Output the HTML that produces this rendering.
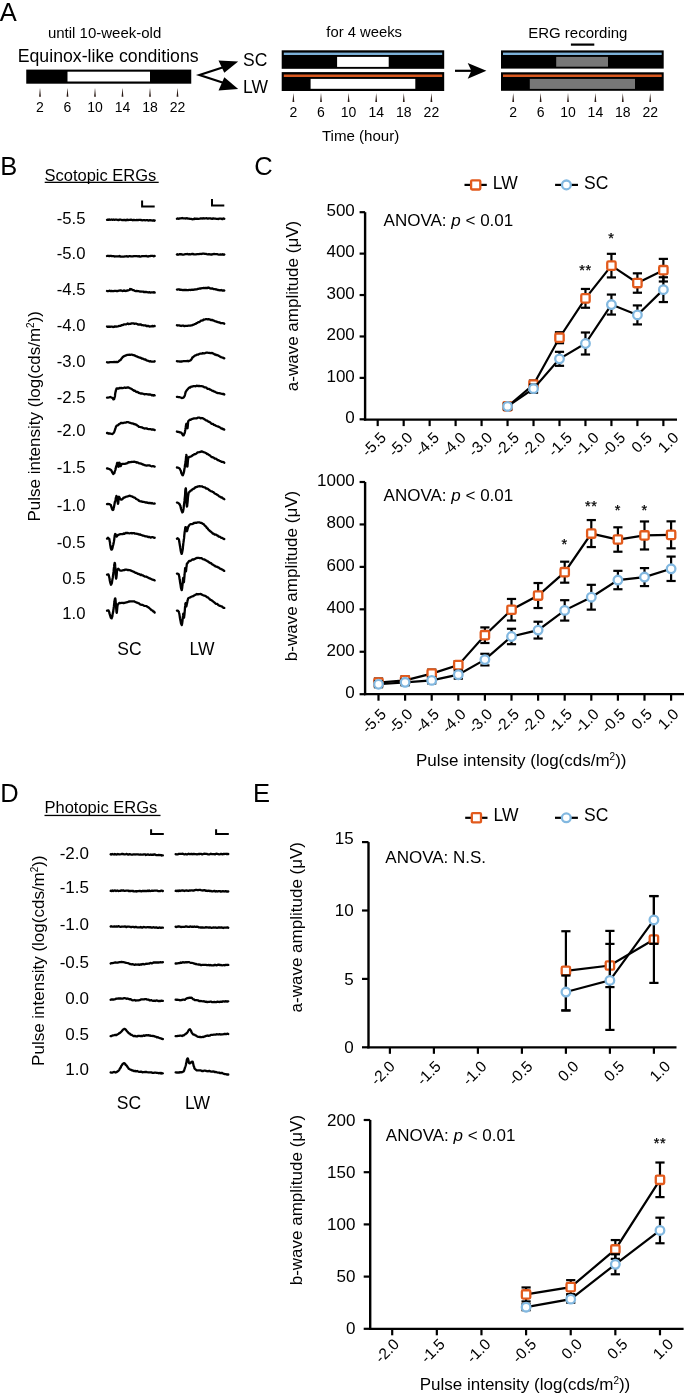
<!DOCTYPE html>
<html><head><meta charset="utf-8"><style>
html,body{margin:0;padding:0;background:#fff;}
svg{display:block;font-family:"Liberation Sans", sans-serif;will-change:transform;}
</style></head><body>
<svg width="685" height="1396" viewBox="0 0 685 1396">
<rect width="685" height="1396" fill="#fff"/>
<text x="-0.30" y="21.20" font-size="25.5" text-anchor="start" >A</text>
<text x="104.60" y="37.50" font-size="15.0" text-anchor="middle" >until 10-week-old</text>
<text x="108.20" y="61.70" font-size="17.7" text-anchor="middle" >Equinox-like conditions</text>
<text x="364.20" y="37.20" font-size="14.8" text-anchor="middle" >for 4 weeks</text>
<text x="577.80" y="37.50" font-size="15.0" text-anchor="middle" >ERG recording</text>
<text x="360.60" y="141.00" font-size="15.1" text-anchor="middle" >Time (hour)</text>
<rect x="26.25" y="69.6" width="165.00" height="14.1" fill="#000"/>
<rect x="67.50" y="71.7" width="82.50" height="9.8" fill="#fff"/>
<polygon points="39.10,96.8 40.00,87.8 40.90,96.8" fill="#2a1a14"/>
<text x="40.00" y="111.90" font-size="14" text-anchor="middle" >2</text>
<polygon points="66.60,96.8 67.50,87.8 68.40,96.8" fill="#2a1a14"/>
<text x="67.50" y="111.90" font-size="14" text-anchor="middle" >6</text>
<polygon points="94.10,96.8 95.00,87.8 95.90,96.8" fill="#2a1a14"/>
<text x="95.00" y="111.90" font-size="14" text-anchor="middle" >10</text>
<polygon points="121.60,96.8 122.50,87.8 123.40,96.8" fill="#2a1a14"/>
<text x="122.50" y="111.90" font-size="14" text-anchor="middle" >14</text>
<polygon points="149.10,96.8 150.00,87.8 150.90,96.8" fill="#2a1a14"/>
<text x="150.00" y="111.90" font-size="14" text-anchor="middle" >18</text>
<polygon points="176.60,96.8 177.50,87.8 178.40,96.8" fill="#2a1a14"/>
<text x="177.50" y="111.90" font-size="14" text-anchor="middle" >22</text>
<polyline points="224,67 199.5,75 224,83" fill="none" stroke="#000" stroke-width="2.2"/>
<polygon points="238.2,61.6 218.5,60.4 224.3,72.8" fill="#000"/>
<polygon points="238.2,88.9 218.5,90.4 224.3,77.2" fill="#000"/>
<text x="243.00" y="65.50" font-size="17.5" text-anchor="start" >SC</text>
<text x="243.00" y="92.50" font-size="17.5" text-anchor="start" >LW</text>
<rect x="281.7" y="50.3" width="162.5" height="18.5" fill="#000"/>
<rect x="283.8" y="52.6" width="158.4" height="2.4" fill="#7BB0D8"/>
<rect x="337.1" y="56.9" width="51.6" height="10" fill="#fff"/>
<rect x="281.7" y="72.1" width="162.5" height="18.9" fill="#000"/>
<rect x="283.8" y="74.5" width="158.4" height="2.5" fill="#D8581F"/>
<rect x="310.6" y="78.9" width="104.7" height="9.9" fill="#fff"/>
<polygon points="292.50,102.1 293.40,93.1 294.30,102.1" fill="#2a1a14"/>
<text x="293.40" y="116.50" font-size="14" text-anchor="middle" >2</text>
<polygon points="320.10,102.1 321.00,93.1 321.90,102.1" fill="#2a1a14"/>
<text x="321.00" y="116.50" font-size="14" text-anchor="middle" >6</text>
<polygon points="347.70,102.1 348.60,93.1 349.50,102.1" fill="#2a1a14"/>
<text x="348.60" y="116.50" font-size="14" text-anchor="middle" >10</text>
<polygon points="375.30,102.1 376.20,93.1 377.10,102.1" fill="#2a1a14"/>
<text x="376.20" y="116.50" font-size="14" text-anchor="middle" >14</text>
<polygon points="402.90,102.1 403.80,93.1 404.70,102.1" fill="#2a1a14"/>
<text x="403.80" y="116.50" font-size="14" text-anchor="middle" >18</text>
<polygon points="430.50,102.1 431.40,93.1 432.30,102.1" fill="#2a1a14"/>
<text x="431.40" y="116.50" font-size="14" text-anchor="middle" >22</text>
<line x1="455" y1="70.8" x2="472" y2="70.8" stroke="#000" stroke-width="2.2"/>
<polygon points="486.4,70.8 467.7,63 471.4,70.8 467.7,78.7" fill="#000"/>
<rect x="501" y="50.4" width="162.7" height="18.2" fill="#000"/>
<rect x="503" y="52.6" width="158.7" height="2.4" fill="#7BB0D8"/>
<rect x="556.2" y="56.9" width="51.8" height="9.8" fill="#777"/>
<rect x="501" y="72.3" width="162.7" height="18.5" fill="#000"/>
<rect x="503" y="74.5" width="158.7" height="2.5" fill="#D8581F"/>
<rect x="529.8" y="78.9" width="105.2" height="10" fill="#777"/>
<rect x="570.9" y="43.5" width="23.4" height="2.2" fill="#000"/>
<polygon points="512.30,102.1 513.20,93.1 514.10,102.1" fill="#2a1a14"/>
<text x="513.20" y="116.50" font-size="14" text-anchor="middle" >2</text>
<polygon points="539.70,102.1 540.60,93.1 541.50,102.1" fill="#2a1a14"/>
<text x="540.60" y="116.50" font-size="14" text-anchor="middle" >6</text>
<polygon points="567.10,102.1 568.00,93.1 568.90,102.1" fill="#2a1a14"/>
<text x="568.00" y="116.50" font-size="14" text-anchor="middle" >10</text>
<polygon points="594.50,102.1 595.40,93.1 596.30,102.1" fill="#2a1a14"/>
<text x="595.40" y="116.50" font-size="14" text-anchor="middle" >14</text>
<polygon points="621.90,102.1 622.80,93.1 623.70,102.1" fill="#2a1a14"/>
<text x="622.80" y="116.50" font-size="14" text-anchor="middle" >18</text>
<polygon points="649.30,102.1 650.20,93.1 651.10,102.1" fill="#2a1a14"/>
<text x="650.20" y="116.50" font-size="14" text-anchor="middle" >22</text>
<text x="0.20" y="174.70" font-size="25.5" text-anchor="start" >B</text>
<text x="44.50" y="180.50" font-size="16.5" text-anchor="start" >Scotopic ERGs</text>
<rect x="44.7" y="181.7" width="114" height="1.3" fill="#000"/>
<text x="85.50" y="224.00" font-size="16.7" text-anchor="end" >-5.5</text>
<text x="85.50" y="259.00" font-size="16.7" text-anchor="end" >-5.0</text>
<text x="85.50" y="295.10" font-size="16.7" text-anchor="end" >-4.5</text>
<text x="85.50" y="330.90" font-size="16.7" text-anchor="end" >-4.0</text>
<text x="85.50" y="367.00" font-size="16.7" text-anchor="end" >-3.0</text>
<text x="85.50" y="402.70" font-size="16.7" text-anchor="end" >-2.5</text>
<text x="85.50" y="436.30" font-size="16.7" text-anchor="end" >-2.0</text>
<text x="85.50" y="473.10" font-size="16.7" text-anchor="end" >-1.5</text>
<text x="85.50" y="510.90" font-size="16.7" text-anchor="end" >-1.0</text>
<text x="85.50" y="548.40" font-size="16.7" text-anchor="end" >-0.5</text>
<text x="85.50" y="583.50" font-size="16.7" text-anchor="end" >0.5</text>
<text x="85.50" y="618.50" font-size="16.7" text-anchor="end" >1.0</text>
<path d="M107.0,219.8 L107.5,219.7 L108.1,219.6 L108.7,219.9 L109.4,219.5 L110.1,219.8 L110.9,219.7 L111.7,219.5 L112.6,219.8 L113.5,219.5 L114.5,219.8 L115.4,219.6 L116.4,219.6 L117.5,219.8 L118.5,220.1 L119.6,219.6 L120.6,219.7 L121.7,220.0 L122.8,220.2 L123.9,220.0 L124.9,219.9 L126.0,220.3 L127.0,219.6 L128.0,220.2 L129.0,219.8 L130.0,219.8 L130.9,219.7 L131.8,219.9 L132.8,220.3 L133.8,219.8 L134.8,220.1 L135.8,220.2 L136.9,220.0 L138.0,220.1 L139.0,219.8 L140.1,219.8 L141.2,220.0 L142.2,220.3 L143.3,220.2 L144.3,220.1 L145.3,220.3 L146.3,220.2 L147.3,220.1 L148.2,220.5 L149.1,220.4 L150.0,220.1 L150.8,220.4 L151.6,220.4 L152.4,220.6 L153.0,220.5 L153.7,220.2 L154.2,220.7 L154.7,220.4" fill="none" stroke="#000" stroke-width="2.3" stroke-linejoin="round" stroke-linecap="round"/>
<path d="M176.9,218.8 L177.5,218.5 L178.2,218.6 L179.0,218.8 L180.0,218.3 L181.0,218.4 L182.1,218.0 L183.1,218.4 L184.1,218.4 L185.0,218.3 L186.0,218.5 L187.1,218.2 L188.0,218.6 L189.0,218.7 L190.0,218.9 L191.0,218.9 L192.0,219.2 L192.8,219.3 L193.5,218.9 L194.2,219.0 L194.9,218.5 L195.8,218.8 L196.8,218.7 L198.2,218.9 L200.0,218.7 L200.6,218.3 L201.3,218.4 L202.1,218.6 L203.0,218.2 L203.8,218.5 L204.8,218.3 L205.7,218.3 L206.8,218.2 L207.8,218.7 L208.9,218.3 L209.9,218.4 L211.0,218.5 L212.1,218.9 L213.2,218.3 L214.3,218.6 L215.3,218.7 L216.4,218.9 L217.4,218.9 L218.4,219.0 L219.3,218.6 L220.2,218.7 L221.1,218.7 L221.9,219.0 L222.6,219.1 L223.2,218.5 L223.8,218.6 L224.3,218.8" fill="none" stroke="#000" stroke-width="2.3" stroke-linejoin="round" stroke-linecap="round"/>
<path d="M107.0,256.0 L107.5,255.8 L108.1,255.8 L108.7,256.0 L109.4,256.1 L110.1,255.9 L110.9,255.8 L111.7,256.1 L112.6,256.1 L113.5,256.2 L114.5,256.5 L115.4,256.4 L116.4,256.3 L117.5,256.4 L118.5,256.4 L119.6,256.0 L120.6,256.7 L121.7,256.6 L122.8,256.7 L123.9,256.6 L124.9,256.4 L126.0,256.4 L127.0,256.2 L128.0,256.6 L129.0,256.2 L130.0,256.2 L130.9,256.3 L131.8,256.3 L132.8,256.4 L133.8,256.2 L134.8,256.1 L135.8,256.2 L136.9,256.2 L138.0,256.3 L139.0,256.1 L140.1,256.6 L141.2,256.4 L142.2,256.1 L143.3,256.1 L144.3,256.2 L145.3,256.1 L146.3,256.0 L147.3,256.4 L148.2,256.5 L149.1,256.1 L150.0,256.1 L150.8,255.8 L151.6,255.8 L152.4,255.9 L153.0,255.9 L153.7,256.3 L154.2,255.8 L154.7,256.0" fill="none" stroke="#000" stroke-width="2.3" stroke-linejoin="round" stroke-linecap="round"/>
<path d="M176.9,254.5 L177.4,254.2 L178.0,254.8 L178.6,254.5 L179.3,254.2 L180.0,254.4 L180.8,254.1 L181.7,254.4 L182.5,254.7 L183.5,254.6 L184.4,254.4 L185.4,254.1 L186.4,254.1 L187.5,254.0 L188.5,254.4 L189.6,254.2 L190.6,254.3 L191.7,254.0 L192.8,253.9 L193.9,254.3 L194.9,254.4 L196.0,254.3 L197.0,254.2 L198.0,254.2 L199.0,254.2 L200.0,253.8 L200.9,254.0 L201.8,253.9 L202.8,253.7 L203.8,253.7 L204.8,253.9 L205.8,253.9 L206.8,254.2 L207.9,254.4 L208.9,254.1 L210.0,254.4 L211.0,254.5 L212.1,254.5 L213.1,254.1 L214.1,254.0 L215.1,254.1 L216.1,254.1 L217.0,254.1 L218.0,254.4 L218.8,254.6 L219.7,254.6 L220.5,254.4 L221.3,254.5 L222.0,254.7 L222.7,254.2 L223.3,254.6 L223.8,254.8 L224.3,254.5" fill="none" stroke="#000" stroke-width="2.3" stroke-linejoin="round" stroke-linecap="round"/>
<path d="M107.0,291.0 L107.5,291.2 L108.1,291.2 L108.8,291.0 L109.6,290.7 L110.5,291.1 L111.4,290.8 L112.4,291.1 L113.5,291.2 L114.6,290.8 L115.7,290.8 L116.8,291.2 L117.9,291.0 L119.0,290.6 L120.2,290.5 L121.2,290.5 L122.3,291.0 L123.3,290.9 L124.3,290.4 L125.2,290.9 L126.0,291.0 L126.8,290.7 L127.4,290.4 L128.0,290.5 L130.1,289.7 L130.1,288.9 L130.4,289.3 L131.1,289.2 L131.9,289.5 L132.8,290.1 L133.8,290.2 L134.8,290.9 L136.0,291.2 L136.8,290.9 L137.6,291.1 L138.4,291.2 L139.3,291.3 L140.2,291.7 L141.2,291.5 L142.1,291.7 L143.1,291.6 L144.1,292.2 L145.0,291.9 L146.0,292.0 L147.1,292.2 L148.2,292.5 L149.3,292.2 L150.4,292.6 L151.5,292.4 L152.5,292.4 L153.4,292.5 L154.1,292.1 L154.7,292.5" fill="none" stroke="#000" stroke-width="2.3" stroke-linejoin="round" stroke-linecap="round"/>
<path d="M176.9,289.6 L177.4,289.6 L178.1,289.4 L178.9,289.3 L179.8,289.9 L180.7,289.6 L181.8,289.8 L182.8,290.1 L183.9,290.0 L185.0,289.9 L186.1,290.0 L187.2,290.1 L188.2,290.2 L189.1,289.8 L190.0,290.0 L191.0,289.8 L192.0,289.7 L193.0,289.9 L193.9,289.6 L194.9,289.5 L195.8,289.4 L196.6,289.4 L197.5,288.9 L198.3,288.8 L199.2,288.6 L200.0,288.5 L201.0,288.5 L202.0,288.2 L202.9,288.1 L203.8,287.9 L204.8,288.1 L205.6,287.9 L206.5,288.0 L207.4,288.0 L208.2,287.5 L209.2,287.9 L210.2,288.4 L211.1,288.6 L212.0,288.4 L212.9,288.7 L213.9,289.2 L215.0,289.2 L215.9,289.5 L216.8,289.5 L217.9,290.0 L219.0,290.2 L220.1,290.4 L221.1,290.0 L222.1,290.5 L223.0,290.6 L223.7,290.3 L224.3,290.6" fill="none" stroke="#000" stroke-width="2.3" stroke-linejoin="round" stroke-linecap="round"/>
<path d="M107.0,326.5 L107.5,326.8 L108.2,326.9 L109.0,326.4 L109.9,326.9 L110.8,326.6 L111.9,326.7 L112.9,327.0 L114.0,326.9 L115.0,326.4 L116.1,326.6 L117.1,326.5 L117.9,326.3 L118.8,326.0 L119.7,325.9 L120.6,325.9 L121.5,325.1 L122.4,325.2 L123.3,324.9 L124.2,324.3 L125.1,324.3 L126.0,324.3 L126.8,324.0 L127.7,323.5 L128.5,324.0 L129.5,323.8 L130.5,323.9 L131.5,323.3 L132.4,323.4 L133.4,323.3 L134.3,323.9 L135.2,323.7 L136.1,323.7 L137.1,324.0 L138.0,324.5 L139.0,324.6 L139.9,324.4 L140.9,324.5 L141.9,325.2 L142.8,325.2 L143.8,325.5 L144.7,325.3 L145.7,325.5 L146.5,326.1 L147.4,326.0 L148.5,325.9 L149.5,326.5 L150.6,326.3 L151.6,326.4 L152.6,325.9 L153.4,326.4 L154.2,325.8 L154.7,326.1" fill="none" stroke="#000" stroke-width="2.3" stroke-linejoin="round" stroke-linecap="round"/>
<path d="M176.9,325.2 L177.5,325.5 L178.2,325.3 L179.1,325.3 L180.0,325.6 L181.1,326.0 L182.2,325.7 L183.3,325.7 L184.4,326.1 L185.4,325.9 L186.4,325.8 L187.3,325.9 L188.4,325.7 L189.4,325.7 L190.3,325.6 L191.2,325.4 L192.0,325.4 L192.9,324.8 L193.9,324.6 L194.9,324.0 L195.7,323.8 L196.5,323.1 L197.4,322.8 L198.3,322.1 L199.2,322.1 L200.1,321.5 L201.0,320.7 L201.9,320.5 L202.8,320.4 L203.6,319.5 L204.4,319.7 L205.5,319.2 L206.5,319.2 L207.5,319.4 L208.4,319.2 L209.4,319.4 L210.3,319.7 L211.2,320.1 L212.0,319.8 L213.0,320.4 L214.0,320.7 L214.9,321.1 L215.8,321.4 L216.7,321.8 L217.7,322.0 L218.7,322.3 L219.7,322.5 L220.8,323.2 L221.9,323.1 L222.9,323.2 L223.7,323.3 L224.3,323.7" fill="none" stroke="#000" stroke-width="2.3" stroke-linejoin="round" stroke-linecap="round"/>
<path d="M107.0,362.2 L107.5,362.4 L108.2,362.5 L109.1,362.3 L110.0,362.1 L111.0,362.1 L112.1,362.1 L113.2,362.2 L114.2,362.0 L115.3,362.1 L116.3,361.8 L117.2,362.2 L118.0,361.9 L118.9,361.2 L119.7,360.4 L120.5,360.2 L121.2,359.0 L121.8,358.3 L122.5,357.3 L123.2,356.8 L123.9,356.3 L124.7,355.9 L125.6,355.4 L126.5,355.3 L127.4,354.8 L128.3,354.9 L129.3,354.7 L130.3,354.9 L131.3,354.7 L132.2,354.7 L133.2,355.1 L134.1,355.2 L134.9,355.7 L135.7,355.9 L136.6,356.4 L137.4,356.7 L138.3,357.1 L139.2,357.6 L140.0,357.6 L140.9,357.9 L141.8,358.7 L142.6,358.5 L143.5,359.2 L144.5,359.5 L145.4,359.4 L146.4,360.3 L147.3,360.7 L148.2,360.8 L149.0,361.2 L149.8,361.5 L150.6,361.2 L151.2,361.6 L152.9,361.7 L154.0,361.7 L154.7,361.2" fill="none" stroke="#000" stroke-width="2.3" stroke-linejoin="round" stroke-linecap="round"/>
<path d="M176.9,361.2 L177.5,361.4 L178.2,361.4 L179.0,361.3 L180.0,361.6 L181.0,361.5 L182.1,361.5 L183.3,361.2 L184.4,361.1 L185.5,361.1 L186.6,361.2 L187.5,360.9 L188.4,361.3 L189.2,360.9 L190.2,360.5 L190.9,360.0 L191.5,359.3 L192.0,358.4 L192.5,357.3 L193.1,357.1 L193.9,356.4 L194.9,355.6 L195.6,355.3 L196.3,355.2 L197.1,354.5 L198.0,354.7 L198.9,354.1 L199.9,353.7 L200.8,353.6 L201.8,353.7 L202.8,353.1 L203.8,353.3 L204.7,353.3 L205.7,352.9 L206.6,352.7 L207.4,352.7 L208.2,352.8 L209.2,352.9 L210.2,353.0 L211.1,353.2 L212.1,353.0 L212.9,353.4 L213.8,353.8 L214.6,354.5 L215.4,354.5 L216.2,355.0 L217.0,355.0 L217.7,355.3 L218.9,355.9 L220.0,356.6 L221.1,357.1 L222.1,357.5 L223.0,357.7 L223.7,358.2 L224.3,358.4" fill="none" stroke="#000" stroke-width="2.3" stroke-linejoin="round" stroke-linecap="round"/>
<path d="M107.0,397.7 L107.8,397.6 L109.0,397.4 L110.3,397.0 L111.4,397.6 L112.5,397.8 L113.4,399.3 L114.2,399.1 L114.4,397.9 L114.6,397.5 L114.8,396.8 L115.0,395.9 L115.1,394.4 L115.3,393.1 L115.5,392.0 L115.7,391.5 L115.9,390.1 L116.1,389.8 L116.7,388.3 L117.5,388.4 L119.0,388.5 L119.7,387.8 L120.5,388.2 L121.5,387.9 L122.5,388.1 L123.6,387.9 L124.7,387.5 L125.7,387.9 L126.7,387.6 L127.7,387.4 L128.5,387.5 L129.5,388.0 L130.4,388.4 L131.1,388.7 L131.8,389.0 L132.5,389.7 L133.3,390.1 L134.2,390.9 L135.0,390.7 L135.8,391.6 L136.7,392.0 L137.6,391.9 L138.5,392.8 L139.5,393.0 L140.6,393.5 L141.8,393.4 L142.6,393.6 L143.5,393.8 L144.4,394.4 L145.5,394.2 L146.5,394.2 L147.6,394.4 L148.7,394.5 L149.8,394.4 L150.8,394.6 L151.8,395.3 L152.7,395.0 L153.5,395.5 L154.2,395.1 L154.7,395.4" fill="none" stroke="#000" stroke-width="2.3" stroke-linejoin="round" stroke-linecap="round"/>
<path d="M176.9,396.9 L177.5,396.8 L178.4,397.2 L179.5,397.2 L180.6,397.5 L181.7,398.0 L182.7,397.9 L183.5,397.5 L184.0,396.9 L184.4,396.4 L184.8,395.5 L185.1,394.3 L185.3,393.4 L185.6,392.0 L186.0,391.6 L186.4,390.7 L187.0,390.0 L187.7,389.2 L188.5,388.3 L189.3,387.5 L190.1,387.6 L191.1,386.6 L191.9,386.6 L192.8,386.3 L193.7,386.1 L194.7,386.2 L195.7,386.3 L196.7,385.7 L197.7,386.0 L198.7,385.8 L199.7,386.0 L200.6,386.1 L201.6,386.1 L202.5,386.3 L203.4,386.6 L204.4,387.4 L205.4,387.4 L206.3,387.6 L207.1,388.4 L207.9,388.9 L208.7,388.9 L209.5,389.2 L210.3,389.7 L211.2,390.0 L212.0,390.7 L212.9,390.9 L213.9,391.4 L214.8,391.7 L215.8,392.3 L216.8,392.8 L217.9,393.0 L219.0,393.1 L220.1,393.4 L221.2,393.7 L222.1,393.9 L223.0,394.0 L223.7,394.0 L224.3,394.5" fill="none" stroke="#000" stroke-width="2.3" stroke-linejoin="round" stroke-linecap="round"/>
<path d="M107.0,433.0 L107.6,432.9 L108.4,433.6 L109.4,433.3 L110.5,433.7 L111.6,433.9 L112.5,434.0 L113.3,433.2 L113.8,432.7 L114.2,432.0 L114.5,431.2 L114.8,430.2 L115.1,429.6 L115.3,428.6 L115.7,427.7 L116.1,426.4 L116.8,425.6 L117.5,425.4 L118.3,424.9 L119.1,424.1 L120.0,423.7 L120.9,423.0 L121.7,422.9 L122.7,423.1 L123.6,422.8 L124.6,422.7 L125.6,422.7 L126.5,422.2 L127.5,422.1 L128.4,422.2 L129.4,422.6 L130.3,422.9 L131.3,423.3 L132.2,423.4 L133.2,423.6 L134.2,424.1 L135.0,424.2 L135.7,424.7 L136.5,424.7 L137.2,425.7 L138.0,425.8 L138.8,426.8 L139.7,427.0 L140.7,427.2 L141.8,427.4 L142.6,427.7 L143.5,428.2 L144.4,428.5 L145.5,428.3 L146.5,428.4 L147.6,428.9 L148.7,429.1 L149.8,429.2 L150.8,429.2 L151.8,429.6 L152.7,429.3 L153.5,429.7 L154.2,429.9 L154.7,430.0" fill="none" stroke="#000" stroke-width="2.3" stroke-linejoin="round" stroke-linecap="round"/>
<path d="M176.9,431.5 L177.6,431.9 L178.6,431.9 L179.7,432.3 L180.7,432.4 L181.5,433.0 L182.2,434.0 L182.9,435.3 L183.5,435.4 L184.0,434.8 L184.3,433.7 L184.7,432.9 L185.0,431.6 L185.2,430.6 L185.4,429.4 L185.5,428.5 L185.7,427.5 L185.9,425.9 L186.1,424.7 L186.2,424.2 L186.4,423.8 L186.7,424.5 L187.0,425.7 L187.3,427.7 L187.5,428.2 L187.6,427.6 L187.7,426.6 L187.8,426.0 L187.9,424.4 L188.0,423.5 L188.1,422.1 L188.2,421.3 L189.2,420.3 L189.8,419.7 L190.6,419.9 L191.5,419.3 L192.5,418.8 L193.5,418.5 L194.6,418.4 L195.7,418.3 L196.8,418.3 L197.8,417.6 L198.7,417.7 L199.7,417.7 L200.7,418.3 L201.7,418.0 L202.6,418.2 L203.5,418.6 L204.4,419.2 L205.4,419.9 L206.3,420.4 L207.1,420.7 L207.9,421.3 L208.7,421.8 L209.5,421.9 L210.3,422.4 L211.2,423.4 L212.0,423.9 L212.9,423.9 L213.9,424.9 L214.7,425.1 L215.6,425.6 L216.5,426.0 L217.5,426.3 L218.6,426.7 L219.6,427.3 L220.6,427.8 L221.5,428.7 L222.4,428.5 L223.1,429.4 L223.8,429.2 L224.3,429.6" fill="none" stroke="#000" stroke-width="2.3" stroke-linejoin="round" stroke-linecap="round"/>
<path d="M107.0,468.5 L107.9,468.5 L109.1,469.0 L110.4,469.6 L111.0,470.0 L111.5,470.7 L112.1,472.1 L112.6,473.0 L113.2,474.0 L113.7,473.6 L114.0,473.4 L114.4,473.1 L114.7,471.6 L115.0,470.9 L115.3,470.1 L115.6,468.9 L115.9,467.4 L116.2,466.4 L116.4,465.7 L116.8,464.9 L117.0,463.3 L117.2,462.9 L117.4,462.8 L117.6,462.9 L117.8,464.0 L118.0,465.8 L118.2,466.6 L118.4,466.8 L118.6,466.7 L118.8,465.4 L119.1,464.0 L119.3,462.7 L119.5,462.8 L119.7,463.4 L120.0,464.6 L120.2,466.1 L120.5,466.2 L120.9,465.7 L121.4,464.5 L122.0,463.8 L122.9,463.8 L123.9,463.8 L125.0,463.8 L125.8,463.7 L126.6,463.3 L127.5,463.1 L128.5,462.2 L129.3,462.4 L130.1,462.2 L131.0,462.0 L131.9,461.9 L133.0,461.8 L134.2,461.7 L134.9,461.8 L135.7,462.0 L136.5,462.6 L137.3,462.3 L138.2,462.7 L139.1,463.4 L140.0,463.4 L140.9,463.6 L141.8,463.9 L142.8,464.5 L143.7,464.6 L144.6,465.2 L145.6,465.4 L146.6,465.6 L147.7,465.3 L148.7,465.4 L149.8,465.5 L150.8,466.0 L151.8,466.3 L152.7,466.2 L153.5,466.2 L154.2,466.5 L154.7,466.6" fill="none" stroke="#000" stroke-width="2.3" stroke-linejoin="round" stroke-linecap="round"/>
<path d="M176.9,467.5 L177.6,467.6 L178.6,467.8 L179.7,468.7 L180.1,469.4 L180.5,470.3 L180.9,471.1 L181.3,472.9 L181.7,473.6 L182.1,474.7 L182.5,475.1 L182.9,475.3 L183.1,474.5 L183.3,474.0 L183.6,473.3 L183.8,472.3 L184.0,471.8 L184.2,470.5 L184.4,469.1 L184.6,468.0 L184.8,467.2 L184.9,465.7 L185.1,464.4 L185.3,463.9 L185.4,462.9 L185.6,461.8 L185.8,459.8 L185.9,458.8 L186.0,457.7 L186.1,456.7 L186.2,455.9 L186.3,454.9 L186.4,455.1 L186.5,455.3 L186.6,456.0 L186.6,457.5 L186.7,458.4 L186.8,459.9 L186.8,460.9 L186.9,462.6 L187.0,463.5 L187.1,464.5 L187.1,465.8 L187.2,466.6 L187.3,466.3 L187.4,466.5 L187.5,466.0 L187.6,464.7 L187.7,463.6 L187.8,462.1 L187.9,460.8 L188.0,459.6 L188.2,458.8 L188.3,458.1 L189.1,456.9 L190.1,456.8 L190.8,456.5 L191.6,456.1 L193.0,455.0 L193.6,454.7 L194.4,454.2 L195.3,454.2 L196.2,453.6 L197.1,452.8 L198.0,452.3 L198.9,452.2 L199.8,452.0 L200.6,451.9 L201.6,451.4 L202.6,451.6 L203.5,452.2 L204.3,452.3 L205.3,452.7 L206.3,453.2 L207.0,454.0 L207.8,454.0 L208.6,454.7 L209.4,455.1 L210.2,455.7 L211.1,456.6 L212.0,457.2 L212.9,457.4 L213.9,457.8 L214.7,458.6 L215.6,458.6 L216.5,459.0 L217.5,460.1 L218.6,460.2 L219.6,460.9 L220.6,461.1 L221.5,461.8 L222.4,461.9 L223.1,462.0 L223.8,462.2 L224.3,462.8" fill="none" stroke="#000" stroke-width="2.3" stroke-linejoin="round" stroke-linecap="round"/>
<path d="M107.0,504.1 L107.9,504.0 L109.2,504.1 L110.4,504.8 L110.9,505.0 L111.3,506.7 L111.7,507.9 L112.1,509.2 L112.5,509.8 L112.9,510.0 L113.1,509.9 L113.4,509.5 L113.6,508.0 L113.9,507.3 L114.1,506.3 L114.3,505.2 L114.6,503.5 L114.8,502.3 L115.0,501.8 L115.2,501.0 L115.6,499.2 L115.9,497.6 L116.2,497.1 L116.4,496.0 L116.7,496.3 L116.9,496.5 L117.0,497.6 L117.2,498.3 L117.4,500.1 L117.5,501.1 L117.7,502.4 L117.9,503.5 L118.0,503.8 L118.2,503.1 L118.3,502.3 L118.4,501.2 L118.5,499.9 L118.7,498.4 L118.8,497.2 L119.0,496.7 L119.5,497.5 L120.2,499.1 L120.9,499.5 L121.7,499.6 L122.6,498.9 L123.7,497.6 L124.5,497.7 L125.5,496.8 L126.6,496.6 L127.6,496.3 L128.5,496.1 L129.4,495.7 L130.1,495.8 L131.0,496.1 L132.3,496.5 L132.9,497.0 L133.6,497.3 L134.4,497.7 L135.2,497.9 L136.0,498.9 L136.9,499.3 L137.9,499.7 L138.8,500.6 L139.8,501.1 L140.8,501.3 L141.8,501.5 L142.6,501.9 L143.6,501.9 L144.6,502.1 L145.6,502.5 L146.7,502.4 L147.8,502.8 L148.8,503.0 L149.9,502.8 L150.9,503.3 L151.9,503.0 L152.7,503.5 L153.5,503.7 L154.2,503.5 L154.7,503.6" fill="none" stroke="#000" stroke-width="2.3" stroke-linejoin="round" stroke-linecap="round"/>
<path d="M176.9,502.6 L177.6,502.6 L178.7,503.4 L179.7,504.4 L180.0,505.5 L180.4,505.9 L180.7,507.6 L181.0,508.9 L181.4,509.9 L181.7,511.0 L182.0,511.4 L182.3,512.4 L182.6,512.1 L182.8,512.1 L183.0,511.6 L183.2,510.4 L183.3,509.9 L183.5,509.0 L183.7,507.3 L183.8,506.4 L183.9,505.4 L184.1,503.8 L184.2,503.1 L184.4,501.6 L184.5,500.9 L184.6,499.5 L184.7,498.6 L184.8,497.6 L185.0,495.8 L185.1,494.5 L185.2,493.3 L185.2,492.0 L185.3,490.6 L185.4,489.8 L185.5,489.0 L185.6,488.9 L185.7,488.5 L185.8,488.7 L185.9,488.4 L185.9,489.3 L186.0,489.5 L186.0,490.6 L186.1,491.6 L186.1,492.4 L186.2,493.9 L186.2,494.9 L186.3,496.1 L186.3,497.6 L186.4,498.3 L186.4,500.2 L186.5,501.2 L186.6,502.1 L186.6,503.5 L186.7,504.0 L186.7,505.3 L186.8,505.7 L186.8,506.0 L186.9,506.6 L187.0,506.4 L187.1,505.9 L187.2,505.6 L187.3,504.2 L187.4,503.6 L187.6,501.9 L187.7,500.8 L187.8,499.7 L187.9,498.1 L188.0,496.9 L188.2,495.6 L188.3,494.7 L188.6,493.2 L188.8,492.4 L189.2,492.1 L190.1,491.2 L190.7,490.7 L191.4,490.5 L192.2,489.4 L193.1,488.9 L194.0,488.6 L195.0,487.6 L196.0,487.1 L196.9,486.9 L197.8,486.4 L198.7,486.4 L199.6,486.2 L200.4,486.4 L201.2,486.4 L201.9,486.3 L202.7,486.8 L203.7,487.1 L204.9,487.4 L206.3,488.7 L206.9,488.5 L207.6,488.8 L208.3,489.2 L209.0,490.0 L209.9,490.6 L210.7,491.1 L211.6,491.3 L212.5,491.8 L213.4,492.1 L214.4,493.2 L215.3,493.7 L216.2,494.1 L217.2,494.9 L218.1,495.3 L219.0,496.2 L219.8,496.6 L220.6,496.8 L221.4,497.7 L222.1,497.5 L222.8,498.3 L223.4,498.6 L223.9,498.8 L224.3,499.2" fill="none" stroke="#000" stroke-width="2.3" stroke-linejoin="round" stroke-linecap="round"/>
<path d="M107.0,538.7 L107.9,537.7 L109.1,538.9 L109.3,538.9 L109.5,540.1 L109.7,541.4 L109.9,542.0 L110.0,543.2 L110.2,544.7 L110.4,545.9 L110.6,547.1 L110.8,548.2 L111.0,548.6 L111.2,549.3 L111.4,549.6 L111.7,549.4 L112.0,549.5 L112.3,548.6 L112.6,547.5 L112.9,545.8 L113.2,545.1 L113.5,543.8 L113.7,542.5 L113.9,541.7 L114.1,540.4 L114.3,539.1 L114.4,537.9 L114.6,536.8 L114.7,535.6 L114.9,534.9 L115.0,534.5 L115.2,534.0 L115.7,534.4 L116.2,535.9 L116.7,536.6 L117.1,536.1 L118.0,534.9 L118.7,534.8 L119.6,534.4 L120.6,534.1 L121.7,534.2 L122.8,534.2 L123.7,533.5 L124.5,533.8 L125.4,533.0 L126.3,533.0 L127.3,532.9 L128.5,533.2 L129.3,533.3 L130.2,533.2 L131.1,533.0 L132.0,533.4 L133.0,533.1 L134.0,533.1 L135.0,533.7 L136.0,533.7 L137.0,533.9 L138.0,534.0 L139.0,534.5 L139.9,534.4 L140.9,534.9 L141.9,535.2 L142.8,535.6 L143.8,535.6 L144.7,536.2 L145.7,536.4 L146.5,536.4 L147.4,536.6 L148.5,537.1 L149.5,536.9 L150.6,537.6 L151.6,537.2 L152.6,537.2 L153.4,537.3 L154.2,537.9 L154.7,537.7" fill="none" stroke="#000" stroke-width="2.3" stroke-linejoin="round" stroke-linecap="round"/>
<path d="M176.9,538.7 L177.7,538.2 L178.8,539.3 L179.0,539.9 L179.1,540.7 L179.3,542.1 L179.5,543.1 L179.7,544.3 L179.9,545.6 L180.1,546.4 L180.3,548.0 L180.5,549.0 L180.7,550.5 L180.9,551.5 L181.1,552.4 L181.3,552.5 L181.4,553.5 L181.6,553.8 L181.8,553.8 L182.0,552.9 L182.1,552.4 L182.3,551.6 L182.5,550.6 L182.6,550.1 L182.8,548.9 L182.9,547.5 L183.0,546.4 L183.2,545.0 L183.3,543.5 L183.5,542.2 L183.6,541.4 L183.7,541.0 L183.8,539.6 L184.0,538.7 L184.1,537.7 L184.2,536.3 L184.3,535.4 L184.4,534.4 L184.5,533.6 L184.6,532.3 L184.8,531.3 L184.9,530.8 L185.0,529.7 L185.1,529.1 L185.2,528.3 L185.3,527.4 L185.4,527.2 L185.8,527.1 L186.1,528.8 L186.5,530.3 L186.9,531.2 L187.2,530.7 L187.4,529.6 L187.7,528.9 L188.0,527.2 L188.5,526.5 L189.2,525.2 L189.9,524.5 L190.8,524.2 L191.7,524.2 L192.8,523.9 L193.9,522.9 L194.9,523.0 L195.9,522.7 L196.8,522.8 L197.9,522.3 L198.8,522.4 L199.8,522.4 L200.7,522.9 L201.6,522.9 L202.5,523.8 L203.2,523.8 L203.9,524.4 L204.7,525.5 L205.4,526.1 L206.1,526.7 L206.8,527.9 L207.5,528.2 L208.2,529.4 L208.9,530.0 L209.6,530.8 L210.3,531.3 L210.9,531.7 L211.6,532.3 L212.2,532.8 L212.9,533.7 L213.8,533.7 L214.7,534.7 L215.6,534.5 L216.6,535.1 L217.7,535.6 L218.5,536.5 L219.4,536.6 L220.3,537.0 L221.3,537.9 L222.2,537.9 L223.1,538.5 L223.8,538.9 L224.3,539.1" fill="none" stroke="#000" stroke-width="2.3" stroke-linejoin="round" stroke-linecap="round"/>
<path d="M107.0,574.7 L108.5,574.5 L108.7,575.1 L108.9,575.9 L109.1,576.7 L109.4,577.9 L109.6,579.0 L109.8,580.7 L110.1,581.8 L110.3,582.9 L110.6,583.4 L110.8,584.2 L111.0,584.7 L111.2,584.5 L111.5,583.8 L111.7,583.4 L111.9,582.8 L112.1,581.3 L112.3,580.1 L112.5,579.0 L112.7,578.0 L112.9,576.8 L113.0,575.6 L113.2,574.6 L113.3,573.6 L113.4,572.5 L113.6,571.4 L113.7,569.9 L113.8,568.8 L114.0,567.5 L114.1,566.9 L114.2,565.7 L114.3,564.3 L114.5,564.2 L114.6,563.0 L114.7,562.9 L114.8,563.2 L114.9,563.3 L115.0,563.7 L115.1,564.2 L115.1,564.9 L115.2,566.2 L115.3,567.0 L115.4,568.3 L115.4,569.7 L115.5,570.8 L115.6,572.3 L115.7,573.9 L115.7,575.0 L115.8,575.9 L115.9,577.0 L115.9,577.6 L116.0,577.9 L116.1,578.6 L116.2,578.5 L116.3,578.2 L116.4,577.4 L116.6,575.9 L116.7,574.7 L116.8,573.4 L116.9,571.8 L117.1,570.4 L117.3,569.8 L117.5,569.3 L118.1,568.8 L118.8,569.3 L119.7,570.3 L120.9,570.6 L121.6,570.6 L122.5,570.4 L123.4,570.1 L124.3,570.1 L125.3,569.6 L126.4,569.7 L127.4,570.0 L128.5,570.0 L129.3,570.2 L130.1,570.2 L131.0,570.6 L131.9,571.0 L132.8,571.5 L133.7,571.7 L134.6,572.3 L135.5,572.9 L136.4,572.8 L137.2,573.5 L138.0,573.9 L138.9,574.0 L139.8,574.4 L140.6,575.0 L141.4,574.7 L142.2,575.3 L143.0,575.4 L143.8,576.1 L144.7,576.6 L145.6,576.6 L146.5,576.7 L147.5,577.4 L148.5,577.8 L149.6,578.4 L150.6,578.7 L151.6,579.2 L152.6,579.7 L153.4,579.9 L154.2,580.1 L154.7,580.4" fill="none" stroke="#000" stroke-width="2.3" stroke-linejoin="round" stroke-linecap="round"/>
<path d="M176.9,573.7 L177.7,573.6 L178.8,574.5 L178.9,575.4 L179.1,575.9 L179.3,577.1 L179.4,577.6 L179.6,579.3 L179.8,580.0 L179.9,581.0 L180.1,582.3 L180.3,583.6 L180.5,584.5 L180.7,585.9 L180.8,586.9 L181.0,588.0 L181.2,588.6 L181.3,589.1 L181.5,589.5 L181.6,590.1 L181.8,590.1 L181.9,589.4 L182.1,588.5 L182.2,587.9 L182.3,586.5 L182.5,585.1 L182.6,583.7 L182.7,582.8 L182.8,581.6 L182.9,580.3 L183.0,579.2 L183.1,578.5 L183.2,577.8 L183.4,578.6 L183.6,580.0 L183.7,582.0 L183.9,582.2 L184.0,581.8 L184.0,580.9 L184.1,579.9 L184.2,579.1 L184.3,577.8 L184.4,577.1 L184.5,575.5 L184.6,574.7 L184.7,573.0 L184.8,572.0 L184.9,570.8 L185.0,569.9 L185.1,568.9 L185.1,568.1 L185.2,568.2 L185.5,568.2 L185.6,570.4 L185.9,571.4 L186.0,571.1 L186.1,570.3 L186.2,569.5 L186.3,568.5 L186.4,567.1 L186.6,566.4 L186.7,565.2 L186.9,563.7 L187.2,563.5 L187.8,562.7 L188.4,561.9 L189.1,561.0 L190.0,561.1 L191.1,560.5 L191.9,559.7 L192.7,559.3 L193.7,559.6 L194.7,559.0 L195.7,558.4 L196.7,558.0 L197.7,557.8 L198.7,557.8 L199.7,558.2 L200.6,558.1 L201.6,558.2 L202.5,559.0 L203.4,559.3 L204.4,559.3 L205.4,560.2 L206.3,560.5 L207.1,561.0 L207.9,561.4 L208.7,562.1 L209.5,562.5 L210.3,563.1 L211.2,563.2 L212.0,564.2 L212.9,564.6 L213.9,565.4 L214.6,565.6 L215.4,566.4 L216.3,566.6 L217.2,566.9 L218.2,567.4 L219.1,567.8 L220.0,568.6 L220.9,568.8 L221.8,569.5 L222.6,569.7 L223.2,570.3 L223.8,570.6 L224.3,570.9" fill="none" stroke="#000" stroke-width="2.3" stroke-linejoin="round" stroke-linecap="round"/>
<path d="M107.0,610.7 L108.5,610.4 L108.8,611.3 L109.1,611.6 L109.4,613.2 L109.7,614.2 L110.1,615.4 L110.5,616.6 L110.8,617.7 L111.1,618.0 L111.4,618.2 L111.7,618.4 L111.9,617.3 L112.2,616.9 L112.4,615.9 L112.6,614.2 L112.8,613.4 L113.1,612.1 L113.3,611.0 L113.4,609.7 L113.6,609.1 L113.7,607.6 L113.9,606.4 L114.0,605.4 L114.2,603.5 L114.3,602.7 L114.5,601.5 L114.6,600.3 L114.8,599.8 L114.9,598.8 L115.1,598.5 L115.2,598.4 L115.3,598.8 L115.4,598.9 L115.5,599.9 L115.6,600.8 L115.7,602.0 L115.8,603.5 L115.9,604.4 L116.0,606.2 L116.1,607.2 L116.2,608.6 L116.3,609.6 L116.4,610.8 L116.5,612.0 L116.6,612.4 L116.7,612.8 L116.8,612.5 L116.9,612.0 L117.0,611.0 L117.1,610.0 L117.2,608.7 L117.3,607.4 L117.5,605.6 L117.7,605.0 L118.0,604.4 L118.7,603.5 L119.4,602.9 L120.4,603.1 L121.5,602.9 L122.8,602.9 L123.6,603.2 L124.4,602.8 L125.4,602.6 L126.4,602.4 L127.4,602.2 L128.4,601.7 L129.4,601.5 L130.4,601.4 L131.4,601.3 L132.3,601.3 L133.2,601.4 L134.1,601.3 L135.0,601.9 L135.8,602.1 L136.6,602.7 L137.4,602.7 L138.3,603.1 L139.1,603.4 L139.9,604.3 L140.8,604.7 L141.8,604.8 L142.7,604.9 L143.7,605.6 L144.6,605.8 L145.5,606.0 L146.5,606.2 L147.4,606.8 L148.2,607.3 L149.0,607.8 L149.8,608.5 L150.7,609.3 L151.5,610.2 L152.3,610.3 L153.1,611.3 L153.7,611.5 L154.3,612.0 L154.7,612.6" fill="none" stroke="#000" stroke-width="2.3" stroke-linejoin="round" stroke-linecap="round"/>
<path d="M176.9,610.7 L177.7,610.6 L178.8,611.8 L179.0,612.6 L179.1,613.0 L179.3,613.6 L179.5,614.9 L179.7,616.2 L179.9,617.6 L180.1,618.8 L180.3,619.7 L180.5,620.8 L180.7,621.6 L180.9,623.0 L181.1,623.5 L181.3,624.1 L181.4,624.5 L181.6,624.7 L181.8,625.0 L182.0,624.1 L182.1,623.9 L182.3,622.3 L182.4,621.7 L182.6,619.9 L182.7,618.4 L182.8,617.6 L183.0,616.1 L183.1,615.4 L183.2,614.3 L183.3,613.7 L183.6,615.0 L183.7,617.3 L184.0,617.7 L184.1,617.2 L184.2,616.1 L184.3,615.7 L184.4,614.9 L184.5,613.7 L184.6,612.9 L184.7,611.3 L184.8,610.6 L184.9,609.2 L185.0,607.6 L185.1,606.5 L185.2,605.9 L185.3,605.1 L185.4,603.8 L185.5,603.3 L185.6,603.2 L185.9,603.0 L186.0,605.7 L186.3,606.5 L186.5,605.7 L186.6,605.2 L186.8,604.3 L187.1,603.0 L187.3,602.0 L187.5,600.5 L187.8,599.9 L188.0,598.9 L188.6,598.0 L190.1,597.5 L190.7,597.0 L191.4,596.7 L192.2,596.5 L193.1,596.2 L194.1,595.6 L195.0,595.1 L196.0,594.5 L196.9,594.0 L197.9,594.4 L198.7,594.1 L199.7,594.2 L200.7,594.0 L201.6,594.4 L202.6,595.0 L203.5,595.3 L204.4,595.6 L205.4,595.9 L206.3,596.4 L207.0,597.2 L207.8,597.3 L208.5,598.1 L209.2,598.6 L209.9,599.4 L210.7,600.0 L211.4,600.2 L212.2,600.7 L213.0,601.4 L213.9,602.1 L214.6,602.7 L215.4,603.4 L216.3,603.9 L217.2,603.8 L218.2,604.9 L219.1,605.4 L220.0,605.9 L220.9,606.2 L221.8,606.4 L222.6,607.2 L223.2,607.6 L223.8,607.8 L224.3,607.9" fill="none" stroke="#000" stroke-width="2.3" stroke-linejoin="round" stroke-linecap="round"/>
<polyline points="142.1,200.4 142.1,206.5 154.7,206.5" fill="none" stroke="#000" stroke-width="2"/>
<polyline points="212,199.1 212,205.6 224.3,205.6" fill="none" stroke="#000" stroke-width="2"/>
<text x="129.40" y="655.00" font-size="17.5" text-anchor="middle" >SC</text>
<text x="202.00" y="655.00" font-size="17.5" text-anchor="middle" >LW</text>
<text transform="translate(39.8,521.6) rotate(-90)" font-size="17">Pulse intensity (log(cds/m<tspan font-size="10" dy="-6">2</tspan><tspan dy="6">))</tspan></text>
<text x="254.30" y="175.30" font-size="25.5" text-anchor="start" >C</text>
<line x1="464.5" y1="184.9" x2="486.8" y2="184.9" stroke="#000" stroke-width="2.2"/>
<rect x="471.09999999999997" y="180.3" width="9.2" height="9.2" rx="1" fill="#fff" stroke="#E25A1C" stroke-width="2.3"/>
<text x="492.80" y="188.50" font-size="17.5" text-anchor="start" >LW</text>
<line x1="555.1" y1="184.9" x2="578.0" y2="184.9" stroke="#000" stroke-width="2.2"/>
<circle cx="566.4" cy="184.9" r="4.4" fill="#fff" stroke="#82B8E0" stroke-width="2.3"/>
<text x="584.10" y="188.50" font-size="17.5" text-anchor="start" >SC</text>
<line x1="365.1" y1="212.20000000000002" x2="365.1" y2="420.6" stroke="#000" stroke-width="2.4"/>
<line x1="363.90000000000003" y1="419.6" x2="677" y2="419.6" stroke="#000" stroke-width="2.2"/>
<line x1="359.6" y1="419.3" x2="365.1" y2="419.3" stroke="#000" stroke-width="2.2"/>
<text x="354.80" y="423.10" font-size="17" text-anchor="end" >0</text>
<line x1="359.6" y1="377.88" x2="365.1" y2="377.88" stroke="#000" stroke-width="2.2"/>
<text x="354.80" y="381.68" font-size="17" text-anchor="end" >100</text>
<line x1="359.6" y1="336.46000000000004" x2="365.1" y2="336.46000000000004" stroke="#000" stroke-width="2.2"/>
<text x="354.80" y="340.26" font-size="17" text-anchor="end" >200</text>
<line x1="359.6" y1="295.04" x2="365.1" y2="295.04" stroke="#000" stroke-width="2.2"/>
<text x="354.80" y="298.84" font-size="17" text-anchor="end" >300</text>
<line x1="359.6" y1="253.62" x2="365.1" y2="253.62" stroke="#000" stroke-width="2.2"/>
<text x="354.80" y="257.42" font-size="17" text-anchor="end" >400</text>
<line x1="359.6" y1="212.20000000000002" x2="365.1" y2="212.20000000000002" stroke="#000" stroke-width="2.2"/>
<text x="354.80" y="216.00" font-size="17" text-anchor="end" >500</text>
<line x1="377.70" y1="419.6" x2="377.70" y2="426.1" stroke="#000" stroke-width="2.2"/>
<text transform="translate(387.00,438.6) rotate(-45)" font-size="15.5" text-anchor="end">-5.5</text>
<line x1="403.67" y1="419.6" x2="403.67" y2="426.1" stroke="#000" stroke-width="2.2"/>
<text transform="translate(413.60,438.6) rotate(-45)" font-size="15.5" text-anchor="end">-5.0</text>
<line x1="429.64" y1="419.6" x2="429.64" y2="426.1" stroke="#000" stroke-width="2.2"/>
<text transform="translate(440.20,438.6) rotate(-45)" font-size="15.5" text-anchor="end">-4.5</text>
<line x1="455.61" y1="419.6" x2="455.61" y2="426.1" stroke="#000" stroke-width="2.2"/>
<text transform="translate(466.80,438.6) rotate(-45)" font-size="15.5" text-anchor="end">-4.0</text>
<line x1="481.58" y1="419.6" x2="481.58" y2="426.1" stroke="#000" stroke-width="2.2"/>
<text transform="translate(493.40,438.6) rotate(-45)" font-size="15.5" text-anchor="end">-3.0</text>
<line x1="507.55" y1="419.6" x2="507.55" y2="426.1" stroke="#000" stroke-width="2.2"/>
<text transform="translate(520.00,438.6) rotate(-45)" font-size="15.5" text-anchor="end">-2.5</text>
<line x1="533.52" y1="419.6" x2="533.52" y2="426.1" stroke="#000" stroke-width="2.2"/>
<text transform="translate(546.60,438.6) rotate(-45)" font-size="15.5" text-anchor="end">-2.0</text>
<line x1="559.49" y1="419.6" x2="559.49" y2="426.1" stroke="#000" stroke-width="2.2"/>
<text transform="translate(573.20,438.6) rotate(-45)" font-size="15.5" text-anchor="end">-1.5</text>
<line x1="585.46" y1="419.6" x2="585.46" y2="426.1" stroke="#000" stroke-width="2.2"/>
<text transform="translate(599.80,438.6) rotate(-45)" font-size="15.5" text-anchor="end">-1.0</text>
<line x1="611.43" y1="419.6" x2="611.43" y2="426.1" stroke="#000" stroke-width="2.2"/>
<text transform="translate(626.40,438.6) rotate(-45)" font-size="15.5" text-anchor="end">-0.5</text>
<line x1="637.40" y1="419.6" x2="637.40" y2="426.1" stroke="#000" stroke-width="2.2"/>
<text transform="translate(653.00,438.6) rotate(-45)" font-size="15.5" text-anchor="end">0.5</text>
<line x1="663.37" y1="419.6" x2="663.37" y2="426.1" stroke="#000" stroke-width="2.2"/>
<text transform="translate(679.60,438.6) rotate(-45)" font-size="15.5" text-anchor="end">1.0</text>
<path d="M507.55,406.46 L533.52,384.51 L559.49,337.70 L585.46,298.35 L611.43,265.63 L637.40,283.03 L663.37,270.19" fill="none" stroke="#000" stroke-width="2.2"/>
<line x1="502.95" y1="403.46" x2="512.15" y2="403.46" stroke="#000" stroke-width="2.2"/>
<line x1="502.95" y1="409.46" x2="512.15" y2="409.46" stroke="#000" stroke-width="2.2"/>
<line x1="507.55" y1="403.46" x2="507.55" y2="409.46" stroke="#000" stroke-width="2.2"/>
<line x1="528.92" y1="380.51" x2="538.12" y2="380.51" stroke="#000" stroke-width="2.2"/>
<line x1="528.92" y1="388.51" x2="538.12" y2="388.51" stroke="#000" stroke-width="2.2"/>
<line x1="533.52" y1="380.51" x2="533.52" y2="388.51" stroke="#000" stroke-width="2.2"/>
<line x1="554.89" y1="332.20" x2="564.09" y2="332.20" stroke="#000" stroke-width="2.2"/>
<line x1="554.89" y1="343.20" x2="564.09" y2="343.20" stroke="#000" stroke-width="2.2"/>
<line x1="559.49" y1="332.20" x2="559.49" y2="343.20" stroke="#000" stroke-width="2.2"/>
<line x1="580.86" y1="288.95" x2="590.06" y2="288.95" stroke="#000" stroke-width="2.2"/>
<line x1="580.86" y1="307.75" x2="590.06" y2="307.75" stroke="#000" stroke-width="2.2"/>
<line x1="585.46" y1="288.95" x2="585.46" y2="307.75" stroke="#000" stroke-width="2.2"/>
<line x1="606.83" y1="253.83" x2="616.03" y2="253.83" stroke="#000" stroke-width="2.2"/>
<line x1="606.83" y1="277.43" x2="616.03" y2="277.43" stroke="#000" stroke-width="2.2"/>
<line x1="611.43" y1="253.83" x2="611.43" y2="277.43" stroke="#000" stroke-width="2.2"/>
<line x1="632.80" y1="273.33" x2="642.00" y2="273.33" stroke="#000" stroke-width="2.2"/>
<line x1="632.80" y1="292.73" x2="642.00" y2="292.73" stroke="#000" stroke-width="2.2"/>
<line x1="637.40" y1="273.33" x2="637.40" y2="292.73" stroke="#000" stroke-width="2.2"/>
<line x1="658.77" y1="258.89" x2="667.97" y2="258.89" stroke="#000" stroke-width="2.2"/>
<line x1="658.77" y1="281.49" x2="667.97" y2="281.49" stroke="#000" stroke-width="2.2"/>
<line x1="663.37" y1="258.89" x2="663.37" y2="281.49" stroke="#000" stroke-width="2.2"/>
<rect x="503.35" y="402.26" width="8.4" height="8.4" rx="1.3" fill="#fff" stroke="#E25A1C" stroke-width="2.3"/>
<rect x="529.32" y="380.31" width="8.4" height="8.4" rx="1.3" fill="#fff" stroke="#E25A1C" stroke-width="2.3"/>
<rect x="555.29" y="333.50" width="8.4" height="8.4" rx="1.3" fill="#fff" stroke="#E25A1C" stroke-width="2.3"/>
<rect x="581.26" y="294.15" width="8.4" height="8.4" rx="1.3" fill="#fff" stroke="#E25A1C" stroke-width="2.3"/>
<rect x="607.23" y="261.43" width="8.4" height="8.4" rx="1.3" fill="#fff" stroke="#E25A1C" stroke-width="2.3"/>
<rect x="633.20" y="278.83" width="8.4" height="8.4" rx="1.3" fill="#fff" stroke="#E25A1C" stroke-width="2.3"/>
<rect x="659.17" y="265.99" width="8.4" height="8.4" rx="1.3" fill="#fff" stroke="#E25A1C" stroke-width="2.3"/>
<path d="M507.55,406.46 L533.52,388.65 L559.49,358.83 L585.46,343.50 L611.43,304.57 L637.40,314.92 L663.37,289.66" fill="none" stroke="#000" stroke-width="2.2"/>
<line x1="502.95" y1="403.46" x2="512.15" y2="403.46" stroke="#000" stroke-width="2.2"/>
<line x1="502.95" y1="409.46" x2="512.15" y2="409.46" stroke="#000" stroke-width="2.2"/>
<line x1="507.55" y1="403.46" x2="507.55" y2="409.46" stroke="#000" stroke-width="2.2"/>
<line x1="528.92" y1="384.65" x2="538.12" y2="384.65" stroke="#000" stroke-width="2.2"/>
<line x1="528.92" y1="392.65" x2="538.12" y2="392.65" stroke="#000" stroke-width="2.2"/>
<line x1="533.52" y1="384.65" x2="533.52" y2="392.65" stroke="#000" stroke-width="2.2"/>
<line x1="554.89" y1="351.83" x2="564.09" y2="351.83" stroke="#000" stroke-width="2.2"/>
<line x1="554.89" y1="365.83" x2="564.09" y2="365.83" stroke="#000" stroke-width="2.2"/>
<line x1="559.49" y1="351.83" x2="559.49" y2="365.83" stroke="#000" stroke-width="2.2"/>
<line x1="580.86" y1="332.50" x2="590.06" y2="332.50" stroke="#000" stroke-width="2.2"/>
<line x1="580.86" y1="354.50" x2="590.06" y2="354.50" stroke="#000" stroke-width="2.2"/>
<line x1="585.46" y1="332.50" x2="585.46" y2="354.50" stroke="#000" stroke-width="2.2"/>
<line x1="606.83" y1="294.57" x2="616.03" y2="294.57" stroke="#000" stroke-width="2.2"/>
<line x1="606.83" y1="314.57" x2="616.03" y2="314.57" stroke="#000" stroke-width="2.2"/>
<line x1="611.43" y1="294.57" x2="611.43" y2="314.57" stroke="#000" stroke-width="2.2"/>
<line x1="632.80" y1="305.42" x2="642.00" y2="305.42" stroke="#000" stroke-width="2.2"/>
<line x1="632.80" y1="324.42" x2="642.00" y2="324.42" stroke="#000" stroke-width="2.2"/>
<line x1="637.40" y1="305.42" x2="637.40" y2="324.42" stroke="#000" stroke-width="2.2"/>
<line x1="658.77" y1="277.26" x2="667.97" y2="277.26" stroke="#000" stroke-width="2.2"/>
<line x1="658.77" y1="302.06" x2="667.97" y2="302.06" stroke="#000" stroke-width="2.2"/>
<line x1="663.37" y1="277.26" x2="663.37" y2="302.06" stroke="#000" stroke-width="2.2"/>
<circle cx="507.55" cy="406.46" r="4.3" fill="#fff" stroke="#82B8E0" stroke-width="2.3"/>
<circle cx="533.52" cy="388.65" r="4.3" fill="#fff" stroke="#82B8E0" stroke-width="2.3"/>
<circle cx="559.49" cy="358.83" r="4.3" fill="#fff" stroke="#82B8E0" stroke-width="2.3"/>
<circle cx="585.46" cy="343.50" r="4.3" fill="#fff" stroke="#82B8E0" stroke-width="2.3"/>
<circle cx="611.43" cy="304.57" r="4.3" fill="#fff" stroke="#82B8E0" stroke-width="2.3"/>
<circle cx="637.40" cy="314.92" r="4.3" fill="#fff" stroke="#82B8E0" stroke-width="2.3"/>
<circle cx="663.37" cy="289.66" r="4.3" fill="#fff" stroke="#82B8E0" stroke-width="2.3"/>
<text x="585.46" y="275.00" font-size="14.5" text-anchor="middle" letter-spacing="0.6" stroke="#000" stroke-width="0.25">**</text>
<text x="611.43" y="243.00" font-size="14.5" text-anchor="middle" letter-spacing="0.6" stroke="#000" stroke-width="0.25">*</text>
<text x="383.60" y="225.70" font-size="17" text-anchor="start" >ANOVA: <tspan font-style="italic">p</tspan> &lt; 0.01</text>
<text transform="translate(297.7,306) rotate(-90)" font-size="17" text-anchor="middle">a-wave amplitude (μV)</text>
<line x1="365.1" y1="482.00000000000006" x2="365.1" y2="695.2" stroke="#000" stroke-width="2.4"/>
<line x1="363.90000000000003" y1="694.2" x2="684" y2="694.2" stroke="#000" stroke-width="2.2"/>
<line x1="359.6" y1="694.2" x2="365.1" y2="694.2" stroke="#000" stroke-width="2.2"/>
<text x="354.80" y="698.00" font-size="17" text-anchor="end" >0</text>
<line x1="359.6" y1="651.76" x2="365.1" y2="651.76" stroke="#000" stroke-width="2.2"/>
<text x="354.80" y="655.56" font-size="17" text-anchor="end" >200</text>
<line x1="359.6" y1="609.32" x2="365.1" y2="609.32" stroke="#000" stroke-width="2.2"/>
<text x="354.80" y="613.12" font-size="17" text-anchor="end" >400</text>
<line x1="359.6" y1="566.8800000000001" x2="365.1" y2="566.8800000000001" stroke="#000" stroke-width="2.2"/>
<text x="354.80" y="570.68" font-size="17" text-anchor="end" >600</text>
<line x1="359.6" y1="524.44" x2="365.1" y2="524.44" stroke="#000" stroke-width="2.2"/>
<text x="354.80" y="528.24" font-size="17" text-anchor="end" >800</text>
<line x1="359.6" y1="482.00000000000006" x2="365.1" y2="482.00000000000006" stroke="#000" stroke-width="2.2"/>
<text x="354.80" y="485.80" font-size="17" text-anchor="end" >1000</text>
<line x1="378.50" y1="694.2" x2="378.50" y2="700.7" stroke="#000" stroke-width="2.2"/>
<text transform="translate(387.00,715.2) rotate(-45)" font-size="15.5" text-anchor="end">-5.5</text>
<line x1="405.10" y1="694.2" x2="405.10" y2="700.7" stroke="#000" stroke-width="2.2"/>
<text transform="translate(413.60,715.2) rotate(-45)" font-size="15.5" text-anchor="end">-5.0</text>
<line x1="431.70" y1="694.2" x2="431.70" y2="700.7" stroke="#000" stroke-width="2.2"/>
<text transform="translate(440.20,715.2) rotate(-45)" font-size="15.5" text-anchor="end">-4.5</text>
<line x1="458.30" y1="694.2" x2="458.30" y2="700.7" stroke="#000" stroke-width="2.2"/>
<text transform="translate(466.80,715.2) rotate(-45)" font-size="15.5" text-anchor="end">-4.0</text>
<line x1="484.90" y1="694.2" x2="484.90" y2="700.7" stroke="#000" stroke-width="2.2"/>
<text transform="translate(493.40,715.2) rotate(-45)" font-size="15.5" text-anchor="end">-3.0</text>
<line x1="511.50" y1="694.2" x2="511.50" y2="700.7" stroke="#000" stroke-width="2.2"/>
<text transform="translate(520.00,715.2) rotate(-45)" font-size="15.5" text-anchor="end">-2.5</text>
<line x1="538.10" y1="694.2" x2="538.10" y2="700.7" stroke="#000" stroke-width="2.2"/>
<text transform="translate(546.60,715.2) rotate(-45)" font-size="15.5" text-anchor="end">-2.0</text>
<line x1="564.70" y1="694.2" x2="564.70" y2="700.7" stroke="#000" stroke-width="2.2"/>
<text transform="translate(573.20,715.2) rotate(-45)" font-size="15.5" text-anchor="end">-1.5</text>
<line x1="591.30" y1="694.2" x2="591.30" y2="700.7" stroke="#000" stroke-width="2.2"/>
<text transform="translate(599.80,715.2) rotate(-45)" font-size="15.5" text-anchor="end">-1.0</text>
<line x1="617.90" y1="694.2" x2="617.90" y2="700.7" stroke="#000" stroke-width="2.2"/>
<text transform="translate(626.40,715.2) rotate(-45)" font-size="15.5" text-anchor="end">-0.5</text>
<line x1="644.50" y1="694.2" x2="644.50" y2="700.7" stroke="#000" stroke-width="2.2"/>
<text transform="translate(653.00,715.2) rotate(-45)" font-size="15.5" text-anchor="end">0.5</text>
<line x1="671.10" y1="694.2" x2="671.10" y2="700.7" stroke="#000" stroke-width="2.2"/>
<text transform="translate(679.60,715.2) rotate(-45)" font-size="15.5" text-anchor="end">1.0</text>
<path d="M378.50,682.53 L405.10,680.41 L431.70,673.62 L458.30,665.13 L484.90,635.21 L511.50,609.74 L538.10,595.53 L564.70,572.19 L591.30,533.56 L617.90,539.51 L644.50,535.47 L671.10,534.84" fill="none" stroke="#000" stroke-width="2.2"/>
<line x1="373.90" y1="678.53" x2="383.10" y2="678.53" stroke="#000" stroke-width="2.2"/>
<line x1="373.90" y1="686.53" x2="383.10" y2="686.53" stroke="#000" stroke-width="2.2"/>
<line x1="378.50" y1="678.53" x2="378.50" y2="686.53" stroke="#000" stroke-width="2.2"/>
<line x1="400.50" y1="676.41" x2="409.70" y2="676.41" stroke="#000" stroke-width="2.2"/>
<line x1="400.50" y1="684.41" x2="409.70" y2="684.41" stroke="#000" stroke-width="2.2"/>
<line x1="405.10" y1="676.41" x2="405.10" y2="684.41" stroke="#000" stroke-width="2.2"/>
<line x1="427.10" y1="669.62" x2="436.30" y2="669.62" stroke="#000" stroke-width="2.2"/>
<line x1="427.10" y1="677.62" x2="436.30" y2="677.62" stroke="#000" stroke-width="2.2"/>
<line x1="431.70" y1="669.62" x2="431.70" y2="677.62" stroke="#000" stroke-width="2.2"/>
<line x1="453.70" y1="661.13" x2="462.90" y2="661.13" stroke="#000" stroke-width="2.2"/>
<line x1="453.70" y1="669.13" x2="462.90" y2="669.13" stroke="#000" stroke-width="2.2"/>
<line x1="458.30" y1="661.13" x2="458.30" y2="669.13" stroke="#000" stroke-width="2.2"/>
<line x1="480.30" y1="627.41" x2="489.50" y2="627.41" stroke="#000" stroke-width="2.2"/>
<line x1="480.30" y1="643.01" x2="489.50" y2="643.01" stroke="#000" stroke-width="2.2"/>
<line x1="484.90" y1="627.41" x2="484.90" y2="643.01" stroke="#000" stroke-width="2.2"/>
<line x1="506.90" y1="598.94" x2="516.10" y2="598.94" stroke="#000" stroke-width="2.2"/>
<line x1="506.90" y1="620.54" x2="516.10" y2="620.54" stroke="#000" stroke-width="2.2"/>
<line x1="511.50" y1="598.94" x2="511.50" y2="620.54" stroke="#000" stroke-width="2.2"/>
<line x1="533.50" y1="583.03" x2="542.70" y2="583.03" stroke="#000" stroke-width="2.2"/>
<line x1="533.50" y1="608.03" x2="542.70" y2="608.03" stroke="#000" stroke-width="2.2"/>
<line x1="538.10" y1="583.03" x2="538.10" y2="608.03" stroke="#000" stroke-width="2.2"/>
<line x1="560.10" y1="561.69" x2="569.30" y2="561.69" stroke="#000" stroke-width="2.2"/>
<line x1="560.10" y1="582.69" x2="569.30" y2="582.69" stroke="#000" stroke-width="2.2"/>
<line x1="564.70" y1="561.69" x2="564.70" y2="582.69" stroke="#000" stroke-width="2.2"/>
<line x1="586.70" y1="520.06" x2="595.90" y2="520.06" stroke="#000" stroke-width="2.2"/>
<line x1="586.70" y1="547.06" x2="595.90" y2="547.06" stroke="#000" stroke-width="2.2"/>
<line x1="591.30" y1="520.06" x2="591.30" y2="547.06" stroke="#000" stroke-width="2.2"/>
<line x1="613.30" y1="527.31" x2="622.50" y2="527.31" stroke="#000" stroke-width="2.2"/>
<line x1="613.30" y1="551.71" x2="622.50" y2="551.71" stroke="#000" stroke-width="2.2"/>
<line x1="617.90" y1="527.31" x2="617.90" y2="551.71" stroke="#000" stroke-width="2.2"/>
<line x1="639.90" y1="521.47" x2="649.10" y2="521.47" stroke="#000" stroke-width="2.2"/>
<line x1="639.90" y1="549.47" x2="649.10" y2="549.47" stroke="#000" stroke-width="2.2"/>
<line x1="644.50" y1="521.47" x2="644.50" y2="549.47" stroke="#000" stroke-width="2.2"/>
<line x1="666.50" y1="521.34" x2="675.70" y2="521.34" stroke="#000" stroke-width="2.2"/>
<line x1="666.50" y1="548.34" x2="675.70" y2="548.34" stroke="#000" stroke-width="2.2"/>
<line x1="671.10" y1="521.34" x2="671.10" y2="548.34" stroke="#000" stroke-width="2.2"/>
<rect x="374.30" y="678.33" width="8.4" height="8.4" rx="1.3" fill="#fff" stroke="#E25A1C" stroke-width="2.3"/>
<rect x="400.90" y="676.21" width="8.4" height="8.4" rx="1.3" fill="#fff" stroke="#E25A1C" stroke-width="2.3"/>
<rect x="427.50" y="669.42" width="8.4" height="8.4" rx="1.3" fill="#fff" stroke="#E25A1C" stroke-width="2.3"/>
<rect x="454.10" y="660.93" width="8.4" height="8.4" rx="1.3" fill="#fff" stroke="#E25A1C" stroke-width="2.3"/>
<rect x="480.70" y="631.01" width="8.4" height="8.4" rx="1.3" fill="#fff" stroke="#E25A1C" stroke-width="2.3"/>
<rect x="507.30" y="605.54" width="8.4" height="8.4" rx="1.3" fill="#fff" stroke="#E25A1C" stroke-width="2.3"/>
<rect x="533.90" y="591.33" width="8.4" height="8.4" rx="1.3" fill="#fff" stroke="#E25A1C" stroke-width="2.3"/>
<rect x="560.50" y="567.99" width="8.4" height="8.4" rx="1.3" fill="#fff" stroke="#E25A1C" stroke-width="2.3"/>
<rect x="587.10" y="529.36" width="8.4" height="8.4" rx="1.3" fill="#fff" stroke="#E25A1C" stroke-width="2.3"/>
<rect x="613.70" y="535.31" width="8.4" height="8.4" rx="1.3" fill="#fff" stroke="#E25A1C" stroke-width="2.3"/>
<rect x="640.30" y="531.27" width="8.4" height="8.4" rx="1.3" fill="#fff" stroke="#E25A1C" stroke-width="2.3"/>
<rect x="666.90" y="530.64" width="8.4" height="8.4" rx="1.3" fill="#fff" stroke="#E25A1C" stroke-width="2.3"/>
<path d="M378.50,684.23 L405.10,682.32 L431.70,680.41 L458.30,674.68 L484.90,659.61 L511.50,636.48 L538.10,630.12 L564.70,610.38 L591.30,597.22 L617.90,580.04 L644.50,577.07 L671.10,568.79" fill="none" stroke="#000" stroke-width="2.2"/>
<line x1="373.90" y1="681.23" x2="383.10" y2="681.23" stroke="#000" stroke-width="2.2"/>
<line x1="373.90" y1="687.23" x2="383.10" y2="687.23" stroke="#000" stroke-width="2.2"/>
<line x1="378.50" y1="681.23" x2="378.50" y2="687.23" stroke="#000" stroke-width="2.2"/>
<line x1="400.50" y1="679.32" x2="409.70" y2="679.32" stroke="#000" stroke-width="2.2"/>
<line x1="400.50" y1="685.32" x2="409.70" y2="685.32" stroke="#000" stroke-width="2.2"/>
<line x1="405.10" y1="679.32" x2="405.10" y2="685.32" stroke="#000" stroke-width="2.2"/>
<line x1="427.10" y1="677.41" x2="436.30" y2="677.41" stroke="#000" stroke-width="2.2"/>
<line x1="427.10" y1="683.41" x2="436.30" y2="683.41" stroke="#000" stroke-width="2.2"/>
<line x1="431.70" y1="677.41" x2="431.70" y2="683.41" stroke="#000" stroke-width="2.2"/>
<line x1="453.70" y1="670.68" x2="462.90" y2="670.68" stroke="#000" stroke-width="2.2"/>
<line x1="453.70" y1="678.68" x2="462.90" y2="678.68" stroke="#000" stroke-width="2.2"/>
<line x1="458.30" y1="670.68" x2="458.30" y2="678.68" stroke="#000" stroke-width="2.2"/>
<line x1="480.30" y1="653.81" x2="489.50" y2="653.81" stroke="#000" stroke-width="2.2"/>
<line x1="480.30" y1="665.41" x2="489.50" y2="665.41" stroke="#000" stroke-width="2.2"/>
<line x1="484.90" y1="653.81" x2="484.90" y2="665.41" stroke="#000" stroke-width="2.2"/>
<line x1="506.90" y1="628.78" x2="516.10" y2="628.78" stroke="#000" stroke-width="2.2"/>
<line x1="506.90" y1="644.18" x2="516.10" y2="644.18" stroke="#000" stroke-width="2.2"/>
<line x1="511.50" y1="628.78" x2="511.50" y2="644.18" stroke="#000" stroke-width="2.2"/>
<line x1="533.50" y1="621.72" x2="542.70" y2="621.72" stroke="#000" stroke-width="2.2"/>
<line x1="533.50" y1="638.52" x2="542.70" y2="638.52" stroke="#000" stroke-width="2.2"/>
<line x1="538.10" y1="621.72" x2="538.10" y2="638.52" stroke="#000" stroke-width="2.2"/>
<line x1="560.10" y1="600.18" x2="569.30" y2="600.18" stroke="#000" stroke-width="2.2"/>
<line x1="560.10" y1="620.58" x2="569.30" y2="620.58" stroke="#000" stroke-width="2.2"/>
<line x1="564.70" y1="600.18" x2="564.70" y2="620.58" stroke="#000" stroke-width="2.2"/>
<line x1="586.70" y1="584.82" x2="595.90" y2="584.82" stroke="#000" stroke-width="2.2"/>
<line x1="586.70" y1="609.62" x2="595.90" y2="609.62" stroke="#000" stroke-width="2.2"/>
<line x1="591.30" y1="584.82" x2="591.30" y2="609.62" stroke="#000" stroke-width="2.2"/>
<line x1="613.30" y1="570.84" x2="622.50" y2="570.84" stroke="#000" stroke-width="2.2"/>
<line x1="613.30" y1="589.24" x2="622.50" y2="589.24" stroke="#000" stroke-width="2.2"/>
<line x1="617.90" y1="570.84" x2="617.90" y2="589.24" stroke="#000" stroke-width="2.2"/>
<line x1="639.90" y1="568.07" x2="649.10" y2="568.07" stroke="#000" stroke-width="2.2"/>
<line x1="639.90" y1="586.07" x2="649.10" y2="586.07" stroke="#000" stroke-width="2.2"/>
<line x1="644.50" y1="568.07" x2="644.50" y2="586.07" stroke="#000" stroke-width="2.2"/>
<line x1="666.50" y1="556.59" x2="675.70" y2="556.59" stroke="#000" stroke-width="2.2"/>
<line x1="666.50" y1="580.99" x2="675.70" y2="580.99" stroke="#000" stroke-width="2.2"/>
<line x1="671.10" y1="556.59" x2="671.10" y2="580.99" stroke="#000" stroke-width="2.2"/>
<circle cx="378.50" cy="684.23" r="4.3" fill="#fff" stroke="#82B8E0" stroke-width="2.3"/>
<circle cx="405.10" cy="682.32" r="4.3" fill="#fff" stroke="#82B8E0" stroke-width="2.3"/>
<circle cx="431.70" cy="680.41" r="4.3" fill="#fff" stroke="#82B8E0" stroke-width="2.3"/>
<circle cx="458.30" cy="674.68" r="4.3" fill="#fff" stroke="#82B8E0" stroke-width="2.3"/>
<circle cx="484.90" cy="659.61" r="4.3" fill="#fff" stroke="#82B8E0" stroke-width="2.3"/>
<circle cx="511.50" cy="636.48" r="4.3" fill="#fff" stroke="#82B8E0" stroke-width="2.3"/>
<circle cx="538.10" cy="630.12" r="4.3" fill="#fff" stroke="#82B8E0" stroke-width="2.3"/>
<circle cx="564.70" cy="610.38" r="4.3" fill="#fff" stroke="#82B8E0" stroke-width="2.3"/>
<circle cx="591.30" cy="597.22" r="4.3" fill="#fff" stroke="#82B8E0" stroke-width="2.3"/>
<circle cx="617.90" cy="580.04" r="4.3" fill="#fff" stroke="#82B8E0" stroke-width="2.3"/>
<circle cx="644.50" cy="577.07" r="4.3" fill="#fff" stroke="#82B8E0" stroke-width="2.3"/>
<circle cx="671.10" cy="568.79" r="4.3" fill="#fff" stroke="#82B8E0" stroke-width="2.3"/>
<text x="564.70" y="549.00" font-size="14.5" text-anchor="middle" letter-spacing="0.6" stroke="#000" stroke-width="0.25">*</text>
<text x="591.30" y="511.00" font-size="14.5" text-anchor="middle" letter-spacing="0.6" stroke="#000" stroke-width="0.25">**</text>
<text x="617.90" y="515.00" font-size="14.5" text-anchor="middle" letter-spacing="0.6" stroke="#000" stroke-width="0.25">*</text>
<text x="644.50" y="515.00" font-size="14.5" text-anchor="middle" letter-spacing="0.6" stroke="#000" stroke-width="0.25">*</text>
<text x="383.60" y="501.30" font-size="17" text-anchor="start" >ANOVA: <tspan font-style="italic">p</tspan> &lt; 0.01</text>
<text transform="translate(297.4,576) rotate(-90)" font-size="17" text-anchor="middle">b-wave amplitude (μV)</text>
<text x="521.2" y="766" font-size="17" text-anchor="middle">Pulse intensity (log(cds/m<tspan font-size="10" dy="-6">2</tspan><tspan dy="6">))</tspan></text>
<text x="0.30" y="802.30" font-size="25.5" text-anchor="start" >D</text>
<text x="44.50" y="812.80" font-size="16.5" text-anchor="start" >Photopic ERGs</text>
<rect x="44.5" y="814.8" width="116" height="1.3" fill="#000"/>
<text x="89.00" y="859.30" font-size="17" text-anchor="end" >-2.0</text>
<text x="89.00" y="892.80" font-size="17" text-anchor="end" >-1.5</text>
<text x="89.00" y="929.50" font-size="17" text-anchor="end" >-1.0</text>
<text x="89.00" y="968.00" font-size="17" text-anchor="end" >-0.5</text>
<text x="89.00" y="1004.40" font-size="17" text-anchor="end" >0.0</text>
<text x="89.00" y="1039.70" font-size="17" text-anchor="end" >0.5</text>
<text x="89.00" y="1074.60" font-size="17" text-anchor="end" >1.0</text>
<path d="M110.6,854.3 L111.1,854.6 L111.7,854.2 L112.4,854.0 L113.2,854.3 L114.0,854.5 L114.9,854.0 L115.9,854.4 L116.9,854.5 L117.9,854.0 L118.9,854.3 L120.0,854.3 L121.0,854.2 L122.1,854.0 L123.1,854.0 L124.1,854.4 L125.0,854.4 L125.9,854.2 L126.8,853.9 L127.8,854.5 L128.7,854.5 L129.6,854.1 L130.6,854.4 L131.5,854.6 L132.5,854.7 L133.4,854.4 L134.3,854.4 L135.3,854.5 L136.2,854.3 L137.2,854.3 L138.1,854.3 L139.1,854.7 L140.0,854.5 L141.0,854.7 L141.9,854.6 L142.9,854.7 L143.9,854.4 L144.9,854.3 L145.9,855.0 L146.9,854.6 L147.9,854.4 L148.9,854.8 L149.9,854.9 L150.8,854.5 L151.7,854.8 L152.6,854.6 L153.5,854.8 L154.3,854.4 L155.0,854.5 L156.4,855.2 L157.7,855.2 L158.8,855.0 L159.9,855.2 L160.8,855.0 L161.6,855.5 L162.3,855.3 L162.9,855.4" fill="none" stroke="#000" stroke-width="2.3" stroke-linejoin="round" stroke-linecap="round"/>
<path d="M175.6,854.1 L176.1,854.4 L176.6,854.3 L177.2,854.3 L177.9,854.4 L178.6,853.9 L179.3,853.8 L180.1,853.9 L180.9,853.8 L181.8,853.8 L182.7,853.7 L183.6,854.1 L184.6,854.3 L185.5,854.0 L186.5,854.4 L187.5,854.3 L188.6,853.7 L189.6,854.1 L190.7,854.0 L191.7,853.8 L192.8,854.3 L193.8,853.8 L194.9,854.1 L195.9,854.1 L197.0,854.3 L198.0,854.1 L199.0,853.9 L200.0,854.0 L200.9,853.8 L201.8,854.3 L202.7,854.3 L203.7,853.8 L204.7,853.7 L205.7,853.8 L206.7,853.9 L207.7,854.3 L208.8,854.3 L209.8,854.3 L210.9,853.7 L212.0,854.2 L213.0,854.2 L214.1,854.1 L215.2,854.4 L216.2,853.7 L217.2,853.8 L218.2,854.2 L219.2,854.4 L220.2,854.2 L221.1,853.9 L222.0,854.1 L222.9,854.3 L223.7,853.8 L224.5,854.0 L225.3,853.9 L226.0,853.8 L226.7,854.1 L227.3,853.9 L227.8,853.9 L228.3,854.1" fill="none" stroke="#000" stroke-width="2.3" stroke-linejoin="round" stroke-linecap="round"/>
<path d="M110.6,890.9 L111.1,890.6 L111.7,891.0 L112.5,890.5 L113.3,891.0 L114.2,890.6 L115.1,890.4 L116.1,891.0 L117.2,890.5 L118.2,891.0 L119.3,890.9 L120.3,890.9 L121.4,890.4 L122.4,890.6 L123.3,890.3 L124.2,890.9 L125.0,890.8 L126.1,890.7 L127.0,890.6 L127.9,890.6 L128.7,891.1 L129.6,890.9 L130.4,891.1 L131.2,890.8 L132.0,891.0 L132.9,890.9 L133.9,891.4 L135.0,891.3 L135.8,891.1 L136.7,891.6 L137.5,891.1 L138.4,891.2 L139.4,891.0 L140.4,891.0 L141.3,891.4 L142.3,891.0 L143.3,890.8 L144.3,891.0 L145.3,890.8 L146.3,891.2 L147.2,890.6 L148.2,891.2 L149.1,890.5 L150.0,891.1 L151.0,890.9 L152.1,890.6 L153.1,890.8 L154.2,890.6 L155.3,890.6 L156.4,890.6 L157.4,890.7 L158.4,891.2 L159.3,891.2 L160.2,891.2 L161.0,890.6 L161.8,890.7 L162.4,891.2 L162.9,890.9" fill="none" stroke="#000" stroke-width="2.3" stroke-linejoin="round" stroke-linecap="round"/>
<path d="M175.6,890.9 L176.1,890.6 L176.7,891.0 L177.5,890.7 L178.3,891.2 L179.2,890.5 L180.1,891.0 L181.1,890.7 L182.2,890.5 L183.2,890.4 L184.3,891.0 L185.3,890.7 L186.4,890.5 L187.4,890.6 L188.3,890.9 L189.2,890.4 L190.0,890.6 L191.1,890.3 L192.1,890.3 L193.1,890.6 L194.0,890.5 L194.9,890.1 L195.8,889.9 L196.6,889.9 L197.5,890.2 L198.3,890.1 L199.2,889.9 L200.1,889.9 L201.0,890.2 L201.8,890.3 L202.6,890.5 L203.4,890.4 L204.1,890.2 L204.9,890.2 L205.8,890.8 L206.7,890.7 L207.7,891.0 L208.8,890.6 L210.0,891.2 L210.7,890.9 L211.6,891.3 L212.5,891.4 L213.4,891.1 L214.4,890.8 L215.4,891.5 L216.5,891.2 L217.6,891.5 L218.7,891.1 L219.8,891.1 L220.8,891.6 L221.9,891.3 L222.9,891.1 L223.9,891.3 L224.8,891.5 L225.7,891.1 L226.5,891.5 L227.2,891.4 L227.8,891.5 L228.3,891.5" fill="none" stroke="#000" stroke-width="2.3" stroke-linejoin="round" stroke-linecap="round"/>
<path d="M110.6,926.5 L111.1,926.2 L111.8,926.6 L112.6,926.7 L113.4,926.7 L114.4,926.3 L115.4,926.6 L116.5,926.4 L117.6,926.6 L118.8,926.2 L120.0,926.8 L120.8,926.8 L121.6,926.6 L122.5,926.6 L123.4,926.7 L124.3,926.7 L125.2,926.4 L126.2,927.1 L127.2,926.6 L128.1,926.7 L129.1,926.7 L130.1,926.8 L131.1,927.3 L132.1,926.8 L133.1,926.8 L134.1,927.3 L135.0,927.0 L135.9,926.9 L136.9,927.3 L137.8,927.3 L138.8,927.3 L139.8,927.4 L140.7,927.0 L141.7,927.6 L142.6,927.5 L143.6,927.0 L144.5,927.1 L145.5,927.3 L146.4,927.4 L147.3,927.2 L148.2,927.1 L149.1,927.3 L150.0,927.1 L151.0,927.5 L152.1,927.7 L153.1,927.2 L154.2,927.5 L155.3,927.7 L156.4,927.3 L157.4,927.8 L158.4,927.9 L159.3,927.5 L160.2,927.6 L161.0,927.9 L161.8,927.7 L162.4,927.6 L162.9,927.7" fill="none" stroke="#000" stroke-width="2.3" stroke-linejoin="round" stroke-linecap="round"/>
<path d="M175.6,926.7 L176.1,927.0 L176.7,926.9 L177.4,926.6 L178.2,926.5 L179.0,926.5 L179.9,926.6 L180.9,927.0 L181.9,926.8 L182.9,926.9 L183.9,926.8 L185.0,926.8 L186.0,926.3 L187.1,926.6 L188.1,926.9 L189.1,926.9 L190.0,926.4 L190.9,926.6 L191.8,926.8 L192.7,926.6 L193.5,926.8 L194.4,926.5 L195.2,926.8 L196.1,926.9 L196.9,926.6 L197.8,926.8 L198.7,927.4 L199.7,927.4 L200.7,927.5 L201.7,927.4 L202.7,927.5 L203.8,927.6 L205.0,927.7 L205.8,927.1 L206.7,927.5 L207.6,927.3 L208.5,927.6 L209.5,927.3 L210.5,927.5 L211.6,927.8 L212.7,927.6 L213.7,927.4 L214.8,927.6 L215.9,927.5 L217.0,927.9 L218.1,927.5 L219.2,927.5 L220.3,927.7 L221.3,927.4 L222.3,927.7 L223.2,928.0 L224.1,927.7 L225.0,927.5 L225.8,927.7 L226.5,927.7 L227.2,927.4 L227.8,927.4 L228.3,927.7" fill="none" stroke="#000" stroke-width="2.3" stroke-linejoin="round" stroke-linecap="round"/>
<path d="M110.6,963.5 L111.1,963.2 L111.8,963.2 L112.6,963.1 L113.4,962.9 L114.4,962.7 L115.4,962.4 L116.4,962.6 L117.5,962.7 L118.6,962.4 L119.6,962.2 L120.6,962.2 L121.6,961.9 L122.5,962.2 L123.5,962.2 L124.4,962.4 L125.3,962.6 L126.2,962.8 L127.1,963.0 L128.0,963.2 L128.9,963.5 L129.8,964.0 L130.7,964.1 L131.7,964.4 L132.7,964.2 L133.6,964.5 L134.5,964.9 L135.4,964.4 L136.4,964.7 L137.4,964.6 L138.4,964.4 L139.3,964.9 L140.3,964.3 L141.3,964.6 L142.3,964.1 L143.2,964.0 L144.1,964.4 L145.0,964.1 L146.0,963.7 L147.0,963.8 L148.0,963.7 L149.0,963.7 L149.9,963.1 L150.9,963.0 L151.8,963.4 L152.7,963.0 L153.5,962.5 L154.4,962.5 L155.2,962.4 L156.3,962.5 L157.5,962.4 L158.6,962.5 L159.7,962.4 L160.7,962.2 L161.6,962.3 L162.3,962.3 L162.9,962.1" fill="none" stroke="#000" stroke-width="2.3" stroke-linejoin="round" stroke-linecap="round"/>
<path d="M175.6,963.5 L176.1,963.6 L176.8,963.3 L177.6,963.4 L178.5,963.2 L179.5,963.2 L180.6,962.5 L181.7,962.8 L182.8,962.1 L183.9,962.5 L185.0,962.3 L186.0,962.1 L187.0,962.4 L187.9,962.2 L188.9,962.1 L189.9,962.5 L190.8,962.8 L191.8,962.8 L192.7,963.0 L193.6,963.3 L194.5,963.6 L195.4,964.0 L196.3,964.0 L197.2,964.3 L198.1,964.5 L199.0,964.5 L199.8,964.6 L200.6,965.0 L201.4,965.1 L202.2,964.9 L203.0,964.9 L203.9,964.8 L204.8,964.9 L205.8,964.8 L207.0,965.1 L208.3,965.2 L209.0,964.8 L209.8,965.4 L210.7,965.0 L211.6,965.3 L212.6,965.3 L213.6,965.4 L214.6,964.9 L215.7,965.0 L216.8,965.4 L217.9,964.7 L218.9,964.7 L220.0,965.1 L221.1,965.0 L222.1,965.3 L223.1,965.2 L224.0,965.0 L224.9,965.3 L225.7,964.9 L226.5,964.9 L227.2,965.0 L227.8,964.8 L228.3,964.9" fill="none" stroke="#000" stroke-width="2.3" stroke-linejoin="round" stroke-linecap="round"/>
<path d="M110.6,999.7 L111.1,999.5 L111.8,999.6 L112.5,999.3 L113.4,999.6 L114.3,999.3 L115.3,999.1 L116.4,998.6 L117.5,998.7 L118.5,998.5 L119.6,998.5 L120.7,998.4 L121.7,998.6 L122.7,998.6 L123.7,998.2 L124.5,998.2 L125.6,998.4 L126.6,998.8 L127.5,998.5 L128.5,998.9 L129.4,999.3 L130.3,999.1 L131.1,999.5 L132.0,1000.2 L132.9,1000.3 L133.8,1000.2 L134.7,1000.0 L135.6,1000.6 L136.6,1000.4 L137.6,1000.4 L138.5,1000.4 L139.5,1000.2 L140.5,999.7 L141.4,999.4 L142.3,999.3 L143.3,999.4 L144.1,999.3 L145.0,999.1 L146.0,999.1 L146.9,999.6 L147.8,999.7 L148.7,999.7 L149.5,1000.4 L150.4,1000.3 L151.2,1000.1 L152.1,1000.5 L153.1,1000.9 L154.1,1000.6 L155.1,1001.0 L156.2,1000.5 L157.4,1000.7 L158.5,1001.1 L159.6,1001.0 L160.6,1001.0 L161.5,1000.7 L162.3,1000.9 L162.9,1000.9" fill="none" stroke="#000" stroke-width="2.3" stroke-linejoin="round" stroke-linecap="round"/>
<path d="M175.6,999.7 L176.2,999.8 L176.9,999.6 L177.8,999.9 L178.8,999.9 L179.8,1000.3 L180.9,1000.1 L182.0,1000.0 L182.9,999.7 L183.8,999.7 L184.8,999.8 L185.7,999.0 L186.6,998.5 L187.4,998.1 L188.2,998.0 L189.0,997.9 L189.9,997.7 L190.7,997.9 L191.4,997.7 L192.1,998.1 L192.9,999.1 L193.7,999.3 L194.8,1000.1 L196.1,1000.2 L196.8,1000.2 L197.6,1000.4 L198.4,1000.4 L199.2,1001.1 L200.1,1001.1 L201.1,1001.0 L202.0,1001.2 L203.0,1001.3 L204.0,1001.2 L205.1,1001.8 L206.1,1001.7 L207.2,1002.1 L208.3,1001.8 L209.3,1001.9 L210.4,1001.7 L211.3,1001.6 L212.2,1002.2 L213.2,1002.2 L214.2,1001.8 L215.3,1002.2 L216.4,1002.1 L217.5,1001.7 L218.6,1001.8 L219.7,1002.0 L220.8,1001.7 L221.8,1001.9 L222.9,1001.4 L223.8,1001.4 L224.8,1001.6 L225.6,1001.2 L226.4,1001.3 L227.2,1001.6 L227.8,1001.3 L228.3,1001.3" fill="none" stroke="#000" stroke-width="2.3" stroke-linejoin="round" stroke-linecap="round"/>
<path d="M110.6,1036.1 L111.2,1036.2 L112.1,1035.6 L113.2,1035.3 L114.3,1035.2 L115.5,1034.8 L116.5,1035.0 L117.4,1034.3 L118.4,1034.0 L119.3,1033.1 L120.1,1032.8 L120.8,1032.1 L121.5,1031.5 L122.3,1030.5 L123.0,1029.6 L123.7,1029.3 L124.5,1028.8 L125.1,1029.0 L125.7,1029.6 L126.4,1030.4 L127.0,1031.3 L127.8,1032.0 L128.6,1033.1 L129.3,1033.4 L130.0,1033.8 L130.7,1034.7 L131.5,1034.8 L132.4,1035.4 L133.5,1036.1 L134.7,1035.8 L135.5,1036.1 L136.3,1036.4 L137.2,1036.4 L138.2,1035.9 L139.3,1035.9 L140.3,1036.1 L141.4,1035.8 L142.4,1036.1 L143.5,1035.4 L144.5,1035.9 L145.4,1035.5 L146.2,1035.2 L147.0,1035.4 L148.3,1035.2 L149.4,1035.6 L150.2,1035.4 L151.0,1035.9 L151.9,1035.9 L153.1,1036.0 L153.9,1036.1 L154.8,1036.6 L155.8,1036.6 L156.8,1037.4 L157.9,1037.2 L158.9,1037.8 L159.9,1038.2 L160.8,1038.3 L161.7,1038.9 L162.4,1038.9 L162.9,1039.1" fill="none" stroke="#000" stroke-width="2.3" stroke-linejoin="round" stroke-linecap="round"/>
<path d="M175.6,1036.1 L176.2,1036.2 L177.0,1036.1 L177.9,1035.9 L178.9,1035.9 L180.0,1035.7 L181.0,1035.7 L182.0,1036.0 L182.8,1035.5 L183.8,1035.3 L184.7,1034.5 L185.5,1034.2 L186.2,1033.5 L186.9,1033.0 L187.6,1032.1 L188.2,1031.0 L188.7,1030.2 L189.3,1029.5 L189.9,1029.2 L190.4,1030.0 L190.8,1030.3 L191.2,1031.3 L191.7,1032.6 L192.3,1033.4 L193.0,1034.3 L193.7,1034.7 L194.5,1034.7 L195.3,1035.3 L196.2,1035.6 L197.2,1036.5 L198.2,1036.8 L199.1,1036.8 L200.1,1037.0 L201.0,1037.2 L201.8,1037.2 L202.7,1036.8 L203.6,1037.0 L204.5,1036.4 L205.4,1036.3 L206.3,1035.8 L207.3,1035.5 L208.3,1035.9 L209.2,1035.6 L210.0,1035.5 L210.9,1034.9 L211.9,1034.8 L212.8,1034.8 L213.8,1034.7 L214.7,1034.6 L215.7,1034.6 L216.6,1034.2 L217.6,1034.3 L218.5,1034.5 L219.5,1034.1 L220.6,1034.5 L221.8,1034.3 L222.9,1034.3 L224.0,1034.0 L225.1,1034.0 L226.1,1034.2 L227.0,1033.9 L227.7,1033.7 L228.3,1034.0" fill="none" stroke="#000" stroke-width="2.3" stroke-linejoin="round" stroke-linecap="round"/>
<path d="M110.6,1072.4 L111.2,1072.6 L112.2,1072.6 L113.2,1072.2 L114.4,1072.0 L115.5,1072.5 L116.6,1072.1 L117.4,1071.5 L118.2,1071.0 L118.9,1070.2 L119.4,1069.7 L119.9,1068.4 L120.4,1068.0 L120.9,1067.1 L121.4,1065.7 L121.9,1065.2 L122.5,1064.1 L123.0,1063.7 L123.5,1063.4 L124.3,1063.1 L125.0,1063.6 L125.8,1065.1 L126.6,1065.6 L127.2,1066.6 L127.7,1067.2 L128.2,1067.9 L128.8,1068.8 L129.7,1069.3 L130.7,1069.8 L131.4,1069.8 L132.0,1070.4 L132.7,1070.5 L133.5,1070.7 L134.3,1071.2 L135.1,1070.8 L136.1,1071.4 L137.1,1071.0 L138.2,1071.6 L139.5,1071.9 L140.9,1071.6 L141.6,1071.9 L142.4,1072.3 L143.2,1072.1 L144.1,1072.1 L145.1,1072.0 L146.1,1071.9 L147.1,1072.2 L148.2,1072.3 L149.3,1072.3 L150.3,1072.4 L151.4,1072.4 L152.5,1072.8 L153.6,1072.9 L154.7,1072.6 L155.7,1072.7 L156.8,1072.9 L157.7,1072.9 L158.7,1073.3 L159.6,1073.0 L160.4,1073.0 L161.1,1073.5 L161.8,1073.0 L162.4,1073.3 L162.9,1073.3" fill="none" stroke="#000" stroke-width="2.3" stroke-linejoin="round" stroke-linecap="round"/>
<path d="M175.6,1072.4 L176.2,1072.3 L177.0,1072.6 L178.0,1072.5 L179.0,1072.6 L180.1,1072.1 L181.2,1072.4 L182.1,1072.2 L182.8,1071.8 L183.5,1071.4 L184.0,1070.8 L184.4,1069.5 L184.7,1068.6 L185.0,1067.7 L185.4,1066.5 L185.7,1065.5 L185.9,1064.7 L186.1,1063.5 L186.4,1062.7 L186.6,1061.4 L186.8,1060.1 L187.0,1059.4 L187.3,1058.8 L187.5,1058.4 L187.8,1058.4 L188.1,1059.2 L188.4,1060.3 L188.8,1062.3 L189.1,1063.2 L189.5,1063.3 L190.4,1063.2 L191.3,1062.1 L192.4,1061.6 L192.7,1061.8 L193.0,1062.9 L193.2,1063.8 L193.4,1064.7 L193.7,1066.1 L194.1,1066.8 L194.5,1068.5 L195.2,1069.2 L196.1,1069.9 L196.7,1070.4 L197.4,1070.4 L198.2,1070.3 L199.1,1070.4 L199.9,1070.4 L200.9,1070.4 L201.9,1071.0 L202.9,1071.1 L203.9,1070.7 L205.0,1070.6 L206.1,1071.0 L207.1,1071.1 L208.2,1071.3 L209.3,1070.8 L210.4,1071.4 L211.2,1071.6 L212.1,1071.6 L213.1,1071.5 L214.0,1071.6 L215.0,1072.2 L216.1,1072.0 L217.1,1072.3 L218.2,1072.6 L219.2,1072.6 L220.2,1073.2 L221.3,1073.0 L222.3,1073.0 L223.2,1073.6 L224.1,1073.8 L225.0,1074.1 L225.8,1074.2 L226.6,1074.4 L227.2,1074.6 L227.8,1074.4 L228.3,1074.5" fill="none" stroke="#000" stroke-width="2.3" stroke-linejoin="round" stroke-linecap="round"/>
<polyline points="151.1,829.2 151.1,833.9 163.8,833.9" fill="none" stroke="#000" stroke-width="2"/>
<polyline points="216.1,829.2 216.1,833.9 228.8,833.9" fill="none" stroke="#000" stroke-width="2"/>
<text x="129.00" y="1108.80" font-size="17.5" text-anchor="middle" >SC</text>
<text x="197.60" y="1108.80" font-size="17.5" text-anchor="middle" >LW</text>
<text transform="translate(43.5,1065.9) rotate(-90)" font-size="17">Pulse intensity (log(cds/m<tspan font-size="10" dy="-6">2</tspan><tspan dy="6">))</tspan></text>
<text x="253.00" y="802.40" font-size="25.5" text-anchor="start" >E</text>
<line x1="465.2" y1="817.8" x2="487.5" y2="817.8" stroke="#000" stroke-width="2.2"/>
<rect x="471.79999999999995" y="813.1999999999999" width="9.2" height="9.2" rx="1" fill="#fff" stroke="#E25A1C" stroke-width="2.3"/>
<text x="493.50" y="821.40" font-size="17.5" text-anchor="start" >LW</text>
<line x1="555.0" y1="817.8" x2="577.9" y2="817.8" stroke="#000" stroke-width="2.2"/>
<circle cx="566.3" cy="817.8" r="4.4" fill="#fff" stroke="#82B8E0" stroke-width="2.3"/>
<text x="584.00" y="821.40" font-size="17.5" text-anchor="start" >SC</text>
<line x1="368.5" y1="842.0999999999999" x2="368.5" y2="1048.3" stroke="#000" stroke-width="2.4"/>
<line x1="367.3" y1="1047.3" x2="676.5" y2="1047.3" stroke="#000" stroke-width="2.2"/>
<line x1="362.0" y1="1047.3" x2="368.5" y2="1047.3" stroke="#000" stroke-width="2.2"/>
<text x="353.70" y="1052.90" font-size="17" text-anchor="end" >0</text>
<line x1="362.0" y1="978.9" x2="368.5" y2="978.9" stroke="#000" stroke-width="2.2"/>
<text x="353.70" y="984.50" font-size="17" text-anchor="end" >5</text>
<line x1="362.0" y1="910.5" x2="368.5" y2="910.5" stroke="#000" stroke-width="2.2"/>
<text x="353.70" y="916.10" font-size="17" text-anchor="end" >10</text>
<line x1="362.0" y1="842.0999999999999" x2="368.5" y2="842.0999999999999" stroke="#000" stroke-width="2.2"/>
<text x="353.70" y="843.70" font-size="17" text-anchor="end" >15</text>
<line x1="389.90" y1="1047.3" x2="389.90" y2="1053.8" stroke="#000" stroke-width="2.2"/>
<text transform="translate(395.90,1067.3) rotate(-45)" font-size="15.5" text-anchor="end">-2.0</text>
<line x1="433.90" y1="1047.3" x2="433.90" y2="1053.8" stroke="#000" stroke-width="2.2"/>
<text transform="translate(441.80,1067.3) rotate(-45)" font-size="15.5" text-anchor="end">-1.5</text>
<line x1="477.90" y1="1047.3" x2="477.90" y2="1053.8" stroke="#000" stroke-width="2.2"/>
<text transform="translate(487.70,1067.3) rotate(-45)" font-size="15.5" text-anchor="end">-1.0</text>
<line x1="521.90" y1="1047.3" x2="521.90" y2="1053.8" stroke="#000" stroke-width="2.2"/>
<text transform="translate(533.60,1067.3) rotate(-45)" font-size="15.5" text-anchor="end">-0.5</text>
<line x1="565.90" y1="1047.3" x2="565.90" y2="1053.8" stroke="#000" stroke-width="2.2"/>
<text transform="translate(579.50,1067.3) rotate(-45)" font-size="15.5" text-anchor="end">0.0</text>
<line x1="609.90" y1="1047.3" x2="609.90" y2="1053.8" stroke="#000" stroke-width="2.2"/>
<text transform="translate(625.40,1067.3) rotate(-45)" font-size="15.5" text-anchor="end">0.5</text>
<line x1="653.90" y1="1047.3" x2="653.90" y2="1053.8" stroke="#000" stroke-width="2.2"/>
<text transform="translate(671.30,1067.3) rotate(-45)" font-size="15.5" text-anchor="end">1.0</text>
<path d="M565.90,970.83 L609.90,965.49 L653.90,939.50" fill="none" stroke="#000" stroke-width="2.2"/>
<line x1="561.30" y1="931.23" x2="570.50" y2="931.23" stroke="#000" stroke-width="2.2"/>
<line x1="561.30" y1="1010.43" x2="570.50" y2="1010.43" stroke="#000" stroke-width="2.2"/>
<line x1="565.90" y1="931.23" x2="565.90" y2="1010.43" stroke="#000" stroke-width="2.2"/>
<line x1="605.30" y1="943.89" x2="614.50" y2="943.89" stroke="#000" stroke-width="2.2"/>
<line x1="605.30" y1="987.09" x2="614.50" y2="987.09" stroke="#000" stroke-width="2.2"/>
<line x1="609.90" y1="943.89" x2="609.90" y2="987.09" stroke="#000" stroke-width="2.2"/>
<line x1="649.30" y1="896.10" x2="658.50" y2="896.10" stroke="#000" stroke-width="2.2"/>
<line x1="649.30" y1="982.90" x2="658.50" y2="982.90" stroke="#000" stroke-width="2.2"/>
<line x1="653.90" y1="896.10" x2="653.90" y2="982.90" stroke="#000" stroke-width="2.2"/>
<rect x="561.70" y="966.63" width="8.4" height="8.4" rx="1.3" fill="#fff" stroke="#E25A1C" stroke-width="2.3"/>
<rect x="605.70" y="961.29" width="8.4" height="8.4" rx="1.3" fill="#fff" stroke="#E25A1C" stroke-width="2.3"/>
<rect x="649.70" y="935.30" width="8.4" height="8.4" rx="1.3" fill="#fff" stroke="#E25A1C" stroke-width="2.3"/>
<path d="M565.90,992.03 L609.90,980.40 L653.90,919.94" fill="none" stroke="#000" stroke-width="2.2"/>
<line x1="561.30" y1="975.53" x2="570.50" y2="975.53" stroke="#000" stroke-width="2.2"/>
<line x1="561.30" y1="1010.43" x2="570.50" y2="1010.43" stroke="#000" stroke-width="2.2"/>
<line x1="565.90" y1="975.53" x2="565.90" y2="1010.43" stroke="#000" stroke-width="2.2"/>
<line x1="605.30" y1="930.90" x2="614.50" y2="930.90" stroke="#000" stroke-width="2.2"/>
<line x1="605.30" y1="1029.90" x2="614.50" y2="1029.90" stroke="#000" stroke-width="2.2"/>
<line x1="609.90" y1="930.90" x2="609.90" y2="1029.90" stroke="#000" stroke-width="2.2"/>
<line x1="649.30" y1="896.04" x2="658.50" y2="896.04" stroke="#000" stroke-width="2.2"/>
<line x1="649.30" y1="943.84" x2="658.50" y2="943.84" stroke="#000" stroke-width="2.2"/>
<line x1="653.90" y1="896.04" x2="653.90" y2="943.84" stroke="#000" stroke-width="2.2"/>
<circle cx="565.90" cy="992.03" r="4.3" fill="#fff" stroke="#82B8E0" stroke-width="2.3"/>
<circle cx="609.90" cy="980.40" r="4.3" fill="#fff" stroke="#82B8E0" stroke-width="2.3"/>
<circle cx="653.90" cy="919.94" r="4.3" fill="#fff" stroke="#82B8E0" stroke-width="2.3"/>
<text x="385.30" y="862.70" font-size="17" text-anchor="start" >ANOVA: N.S.</text>
<text transform="translate(302.2,927.2) rotate(-90)" font-size="17" text-anchor="middle">a-wave amplitude (μV)</text>
<line x1="370.2" y1="1120.0" x2="370.2" y2="1329.8" stroke="#000" stroke-width="2.4"/>
<line x1="369.0" y1="1328.8" x2="683.6" y2="1328.8" stroke="#000" stroke-width="2.2"/>
<line x1="363.7" y1="1328.8" x2="370.2" y2="1328.8" stroke="#000" stroke-width="2.2"/>
<text x="355.40" y="1334.40" font-size="17" text-anchor="end" >0</text>
<line x1="363.7" y1="1276.6" x2="370.2" y2="1276.6" stroke="#000" stroke-width="2.2"/>
<text x="355.40" y="1282.20" font-size="17" text-anchor="end" >50</text>
<line x1="363.7" y1="1224.3999999999999" x2="370.2" y2="1224.3999999999999" stroke="#000" stroke-width="2.2"/>
<text x="355.40" y="1230.00" font-size="17" text-anchor="end" >100</text>
<line x1="363.7" y1="1172.2" x2="370.2" y2="1172.2" stroke="#000" stroke-width="2.2"/>
<text x="355.40" y="1177.80" font-size="17" text-anchor="end" >150</text>
<line x1="363.7" y1="1120.0" x2="370.2" y2="1120.0" stroke="#000" stroke-width="2.2"/>
<text x="355.40" y="1125.60" font-size="17" text-anchor="end" >200</text>
<line x1="392.20" y1="1328.8" x2="392.20" y2="1335.3" stroke="#000" stroke-width="2.2"/>
<text transform="translate(400.20,1345.1) rotate(-45)" font-size="15.5" text-anchor="end">-2.0</text>
<line x1="436.83" y1="1328.8" x2="436.83" y2="1335.3" stroke="#000" stroke-width="2.2"/>
<text transform="translate(445.90,1345.1) rotate(-45)" font-size="15.5" text-anchor="end">-1.5</text>
<line x1="481.46" y1="1328.8" x2="481.46" y2="1335.3" stroke="#000" stroke-width="2.2"/>
<text transform="translate(491.60,1345.1) rotate(-45)" font-size="15.5" text-anchor="end">-1.0</text>
<line x1="526.09" y1="1328.8" x2="526.09" y2="1335.3" stroke="#000" stroke-width="2.2"/>
<text transform="translate(537.30,1345.1) rotate(-45)" font-size="15.5" text-anchor="end">-0.5</text>
<line x1="570.72" y1="1328.8" x2="570.72" y2="1335.3" stroke="#000" stroke-width="2.2"/>
<text transform="translate(583.00,1345.1) rotate(-45)" font-size="15.5" text-anchor="end">0.0</text>
<line x1="615.35" y1="1328.8" x2="615.35" y2="1335.3" stroke="#000" stroke-width="2.2"/>
<text transform="translate(628.70,1345.1) rotate(-45)" font-size="15.5" text-anchor="end">0.5</text>
<line x1="659.98" y1="1328.8" x2="659.98" y2="1335.3" stroke="#000" stroke-width="2.2"/>
<text transform="translate(674.40,1345.1) rotate(-45)" font-size="15.5" text-anchor="end">1.0</text>
<path d="M526.09,1294.45 L570.72,1287.14 L615.35,1249.46 L659.98,1179.82" fill="none" stroke="#000" stroke-width="2.2"/>
<line x1="521.49" y1="1287.45" x2="530.69" y2="1287.45" stroke="#000" stroke-width="2.2"/>
<line x1="521.49" y1="1301.45" x2="530.69" y2="1301.45" stroke="#000" stroke-width="2.2"/>
<line x1="526.09" y1="1287.45" x2="526.09" y2="1301.45" stroke="#000" stroke-width="2.2"/>
<line x1="566.12" y1="1280.14" x2="575.32" y2="1280.14" stroke="#000" stroke-width="2.2"/>
<line x1="566.12" y1="1294.14" x2="575.32" y2="1294.14" stroke="#000" stroke-width="2.2"/>
<line x1="570.72" y1="1280.14" x2="570.72" y2="1294.14" stroke="#000" stroke-width="2.2"/>
<line x1="610.75" y1="1240.06" x2="619.95" y2="1240.06" stroke="#000" stroke-width="2.2"/>
<line x1="610.75" y1="1258.86" x2="619.95" y2="1258.86" stroke="#000" stroke-width="2.2"/>
<line x1="615.35" y1="1240.06" x2="615.35" y2="1258.86" stroke="#000" stroke-width="2.2"/>
<line x1="655.38" y1="1162.52" x2="664.58" y2="1162.52" stroke="#000" stroke-width="2.2"/>
<line x1="655.38" y1="1197.12" x2="664.58" y2="1197.12" stroke="#000" stroke-width="2.2"/>
<line x1="659.98" y1="1162.52" x2="659.98" y2="1197.12" stroke="#000" stroke-width="2.2"/>
<rect x="521.89" y="1290.25" width="8.4" height="8.4" rx="1.3" fill="#fff" stroke="#E25A1C" stroke-width="2.3"/>
<rect x="566.52" y="1282.94" width="8.4" height="8.4" rx="1.3" fill="#fff" stroke="#E25A1C" stroke-width="2.3"/>
<rect x="611.15" y="1245.26" width="8.4" height="8.4" rx="1.3" fill="#fff" stroke="#E25A1C" stroke-width="2.3"/>
<rect x="655.78" y="1175.62" width="8.4" height="8.4" rx="1.3" fill="#fff" stroke="#E25A1C" stroke-width="2.3"/>
<path d="M526.09,1307.19 L570.72,1299.15 L615.35,1264.28 L659.98,1230.46" fill="none" stroke="#000" stroke-width="2.2"/>
<line x1="521.49" y1="1304.19" x2="530.69" y2="1304.19" stroke="#000" stroke-width="2.2"/>
<line x1="521.49" y1="1310.19" x2="530.69" y2="1310.19" stroke="#000" stroke-width="2.2"/>
<line x1="526.09" y1="1304.19" x2="526.09" y2="1310.19" stroke="#000" stroke-width="2.2"/>
<line x1="566.12" y1="1295.65" x2="575.32" y2="1295.65" stroke="#000" stroke-width="2.2"/>
<line x1="566.12" y1="1302.65" x2="575.32" y2="1302.65" stroke="#000" stroke-width="2.2"/>
<line x1="570.72" y1="1295.65" x2="570.72" y2="1302.65" stroke="#000" stroke-width="2.2"/>
<line x1="610.75" y1="1254.28" x2="619.95" y2="1254.28" stroke="#000" stroke-width="2.2"/>
<line x1="610.75" y1="1274.28" x2="619.95" y2="1274.28" stroke="#000" stroke-width="2.2"/>
<line x1="615.35" y1="1254.28" x2="615.35" y2="1274.28" stroke="#000" stroke-width="2.2"/>
<line x1="655.38" y1="1217.66" x2="664.58" y2="1217.66" stroke="#000" stroke-width="2.2"/>
<line x1="655.38" y1="1243.26" x2="664.58" y2="1243.26" stroke="#000" stroke-width="2.2"/>
<line x1="659.98" y1="1217.66" x2="659.98" y2="1243.26" stroke="#000" stroke-width="2.2"/>
<circle cx="526.09" cy="1307.19" r="4.3" fill="#fff" stroke="#82B8E0" stroke-width="2.3"/>
<circle cx="570.72" cy="1299.15" r="4.3" fill="#fff" stroke="#82B8E0" stroke-width="2.3"/>
<circle cx="615.35" cy="1264.28" r="4.3" fill="#fff" stroke="#82B8E0" stroke-width="2.3"/>
<circle cx="659.98" cy="1230.46" r="4.3" fill="#fff" stroke="#82B8E0" stroke-width="2.3"/>
<text x="659.98" y="1148.00" font-size="14.5" text-anchor="middle" letter-spacing="0.6" stroke="#000" stroke-width="0.25">**</text>
<text x="385.80" y="1141.10" font-size="17" text-anchor="start" >ANOVA: <tspan font-style="italic">p</tspan> &lt; 0.01</text>
<text transform="translate(302,1200.1) rotate(-90)" font-size="17" text-anchor="middle">b-wave amplitude (μV)</text>
<text x="525" y="1389.5" font-size="17" text-anchor="middle">Pulse intensity (log(cds/m<tspan font-size="10" dy="-6">2</tspan><tspan dy="6">))</tspan></text>
</svg></body></html>
